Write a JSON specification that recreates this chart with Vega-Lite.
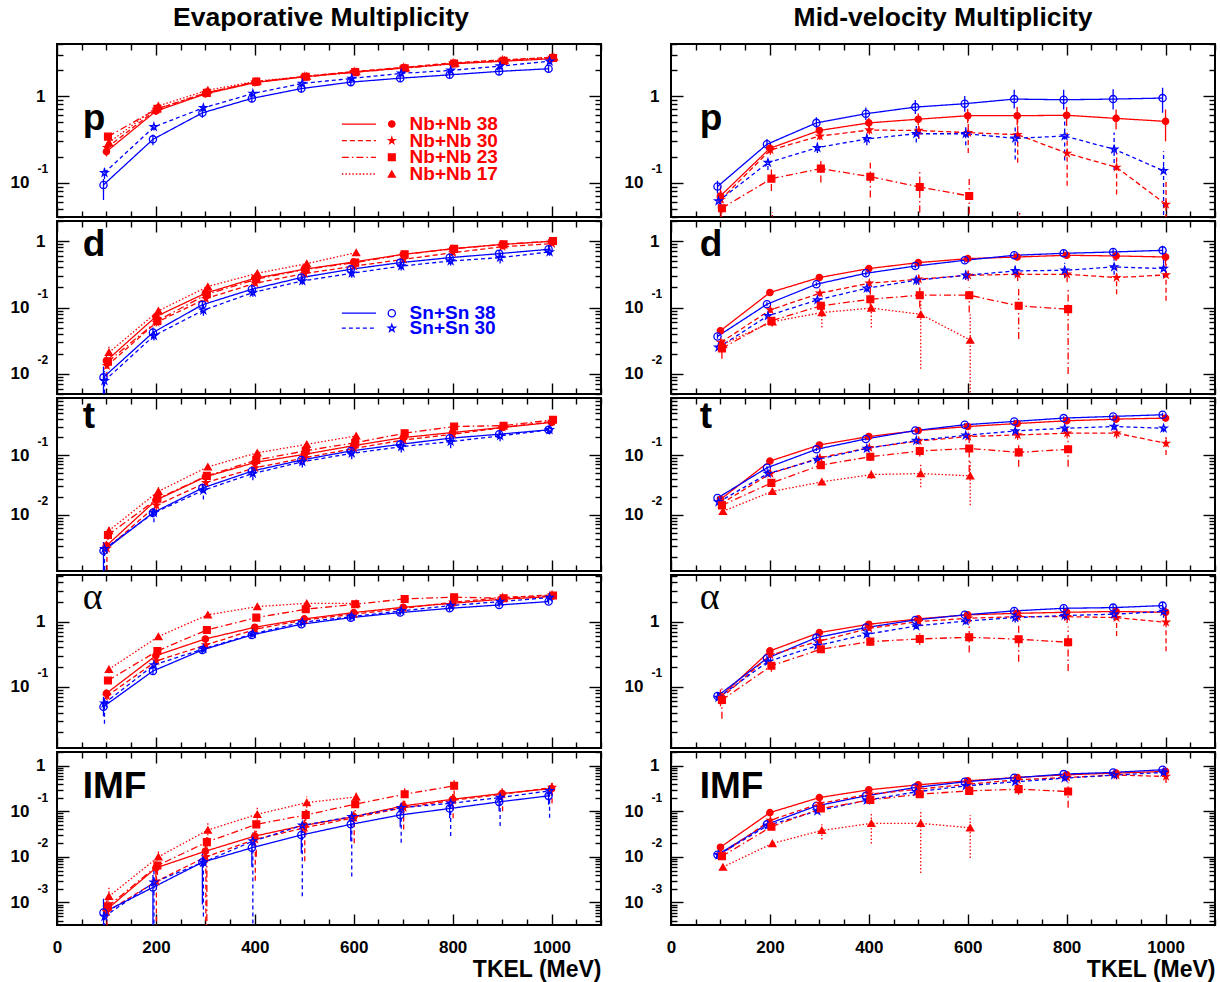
{
"$schema":"https://vega.github.io/schema/vega-lite/v6.json",
"background":"white",
"padding":{"left":9,"top":3,"right":4,"bottom":4},
"bounds":"flush",
"columns":2,
"spacing":{"row":4,"column":70},
"datasets":{
"leg":[{"s":"N38","lab":"Nb+Nb 38","g":"Nb"},{"s":"N30","lab":"Nb+Nb 30","g":"Nb"},{"s":"N23","lab":"Nb+Nb 23","g":"Nb"},{"s":"N17","lab":"Nb+Nb 17","g":"Nb"},{"s":"S38","lab":"Sn+Sn 38","g":"Sn"},{"s":"S30","lab":"Sn+Sn 30","g":"Sn"}],
"lab":[{"pn":"pL","t":"p"},{"pn":"pR","t":"p"},{"pn":"dL","t":"d"},{"pn":"dR","t":"d"},{"pn":"tL","t":"t"},{"pn":"tR","t":"t"},{"pn":"aL","t":"α"},{"pn":"aR","t":"α"},{"pn":"iL","t":"IMF"},{"pn":"iR","t":"IMF"}],
"pts":[
{"pn":"pL","s":"N38","x":100,"y":0.228,"lo":0.2,"hi":0.26},{"pn":"pL","s":"N38","x":200,"y":0.67,"lo":0.62,"hi":0.72},{"pn":"pL","s":"N38","x":300,"y":1.06,"lo":0.98,"hi":1.14},{"pn":"pL","s":"N38","x":400,"y":1.43,"lo":1.33,"hi":1.53},{"pn":"pL","s":"N38","x":500,"y":1.67,"lo":1.56,"hi":1.78},{"pn":"pL","s":"N38","x":600,"y":1.89,"lo":1.77,"hi":2.01},{"pn":"pL","s":"N38","x":700,"y":2.12,"lo":1.99,"hi":2.25},{"pn":"pL","s":"N38","x":800,"y":2.36,"lo":2.22,"hi":2.5},{"pn":"pL","s":"N38","x":900,"y":2.53,"lo":2.38,"hi":2.68},{"pn":"pL","s":"N38","x":1000,"y":2.7,"lo":2.54,"hi":2.86},
{"pn":"pL","s":"N30","x":101,"y":0.253,"lo":0.22,"hi":0.29},{"pn":"pL","s":"N30","x":201,"y":0.7,"lo":0.64,"hi":0.76},{"pn":"pL","s":"N30","x":301,"y":1.09,"lo":1.0,"hi":1.18},{"pn":"pL","s":"N30","x":401,"y":1.45,"lo":1.35,"hi":1.55},{"pn":"pL","s":"N30","x":501,"y":1.69,"lo":1.58,"hi":1.8},{"pn":"pL","s":"N30","x":601,"y":1.92,"lo":1.8,"hi":2.04},{"pn":"pL","s":"N30","x":701,"y":2.15,"lo":2.0,"hi":2.3},{"pn":"pL","s":"N30","x":801,"y":2.42,"lo":2.27,"hi":2.57},{"pn":"pL","s":"N30","x":901,"y":2.62,"lo":2.46,"hi":2.78},{"pn":"pL","s":"N30","x":1001,"y":2.8,"lo":2.63,"hi":2.97},
{"pn":"pL","s":"N23","x":103,"y":0.34,"lo":0.31,"hi":0.37},{"pn":"pL","s":"N23","x":203,"y":0.715,"lo":0.67,"hi":0.76},{"pn":"pL","s":"N23","x":303,"y":1.09,"lo":1.03,"hi":1.15},{"pn":"pL","s":"N23","x":403,"y":1.47,"lo":1.39,"hi":1.55},{"pn":"pL","s":"N23","x":503,"y":1.67,"lo":1.58,"hi":1.76},{"pn":"pL","s":"N23","x":603,"y":1.89,"lo":1.79,"hi":1.99},{"pn":"pL","s":"N23","x":703,"y":2.1,"lo":1.99,"hi":2.21},{"pn":"pL","s":"N23","x":803,"y":2.38,"lo":2.26,"hi":2.5},{"pn":"pL","s":"N23","x":903,"y":2.55,"lo":2.42,"hi":2.68},{"pn":"pL","s":"N23","x":1003,"y":2.75,"lo":2.6,"hi":2.9},
{"pn":"pL","s":"N17","x":105,"y":0.29,"lo":0.26,"hi":0.32},{"pn":"pL","s":"N17","x":205,"y":0.77,"lo":0.72,"hi":0.82},{"pn":"pL","s":"N17","x":305,"y":1.17,"lo":1.1,"hi":1.24},{"pn":"pL","s":"N17","x":405,"y":1.49,"lo":1.41,"hi":1.57},{"pn":"pL","s":"N17","x":505,"y":1.7,"lo":1.61,"hi":1.79},{"pn":"pL","s":"N17","x":605,"y":1.92,"lo":1.82,"hi":2.02},{"pn":"pL","s":"N17","x":705,"y":2.12,"lo":2.01,"hi":2.23},{"pn":"pL","s":"N17","x":805,"y":2.4,"lo":2.28,"hi":2.52},{"pn":"pL","s":"N17","x":905,"y":2.6,"lo":2.47,"hi":2.73},{"pn":"pL","s":"N17","x":1005,"y":2.82,"lo":2.68,"hi":2.96},
{"pn":"pL","s":"S38","x":94,"y":0.094,"lo":0.063,"hi":0.11},{"pn":"pL","s":"S38","x":194,"y":0.316,"lo":0.27,"hi":0.36},{"pn":"pL","s":"S38","x":294,"y":0.64,"lo":0.56,"hi":0.72},{"pn":"pL","s":"S38","x":394,"y":0.94,"lo":0.85,"hi":1.03},{"pn":"pL","s":"S38","x":494,"y":1.22,"lo":1.1,"hi":1.34},{"pn":"pL","s":"S38","x":594,"y":1.45,"lo":1.32,"hi":1.58},{"pn":"pL","s":"S38","x":694,"y":1.61,"lo":1.46,"hi":1.76},{"pn":"pL","s":"S38","x":794,"y":1.76,"lo":1.6,"hi":1.92},{"pn":"pL","s":"S38","x":894,"y":1.93,"lo":1.76,"hi":2.1},{"pn":"pL","s":"S38","x":994,"y":2.07,"lo":1.89,"hi":2.25},
{"pn":"pL","s":"S30","x":96,"y":0.13,"lo":0.11,"hi":0.15},{"pn":"pL","s":"S30","x":196,"y":0.44,"lo":0.4,"hi":0.48},{"pn":"pL","s":"S30","x":296,"y":0.73,"lo":0.67,"hi":0.8},{"pn":"pL","s":"S30","x":396,"y":1.07,"lo":0.98,"hi":1.16},{"pn":"pL","s":"S30","x":496,"y":1.4,"lo":1.29,"hi":1.51},{"pn":"pL","s":"S30","x":596,"y":1.6,"lo":1.47,"hi":1.73},{"pn":"pL","s":"S30","x":696,"y":1.83,"lo":1.68,"hi":1.98},{"pn":"pL","s":"S30","x":796,"y":1.98,"lo":1.82,"hi":2.14},{"pn":"pL","s":"S30","x":896,"y":2.22,"lo":2.04,"hi":2.4},{"pn":"pL","s":"S30","x":996,"y":2.53,"lo":2.33,"hi":2.73},

{"pn":"pR","s":"S38","x":94,"y":0.09,"lo":0.075,"hi":0.105},{"pn":"pR","s":"S38","x":194,"y":0.277,"lo":0.24,"hi":0.32},{"pn":"pR","s":"S38","x":294,"y":0.49,"lo":0.42,"hi":0.57},{"pn":"pR","s":"S38","x":394,"y":0.625,"lo":0.53,"hi":0.74},{"pn":"pR","s":"S38","x":494,"y":0.746,"lo":0.62,"hi":0.9},{"pn":"pR","s":"S38","x":594,"y":0.816,"lo":0.66,"hi":1.0},{"pn":"pR","s":"S38","x":694,"y":0.923,"lo":0.72,"hi":1.18},{"pn":"pR","s":"S38","x":794,"y":0.907,"lo":0.7,"hi":1.18},{"pn":"pR","s":"S38","x":894,"y":0.923,"lo":0.7,"hi":1.2},{"pn":"pR","s":"S38","x":994,"y":0.948,"lo":0.64,"hi":1.25},
{"pn":"pR","s":"N38","x":100,"y":0.07,"lo":0.045,"hi":0.09},{"pn":"pR","s":"N38","x":200,"y":0.249,"lo":0.22,"hi":0.28},{"pn":"pR","s":"N38","x":300,"y":0.4,"lo":0.36,"hi":0.44},{"pn":"pR","s":"N38","x":400,"y":0.49,"lo":0.43,"hi":0.56},{"pn":"pR","s":"N38","x":500,"y":0.54,"lo":0.46,"hi":0.63},{"pn":"pR","s":"N38","x":600,"y":0.593,"lo":0.49,"hi":0.71},{"pn":"pR","s":"N38","x":700,"y":0.593,"lo":0.46,"hi":0.75},{"pn":"pR","s":"N38","x":800,"y":0.6,"lo":0.45,"hi":0.75},{"pn":"pR","s":"N38","x":900,"y":0.552,"lo":0.41,"hi":0.7},{"pn":"pR","s":"N38","x":1000,"y":0.51,"lo":0.3,"hi":0.7},
{"pn":"pR","s":"N30","x":101,"y":0.064,"lo":0.04,"hi":0.08},{"pn":"pR","s":"N30","x":201,"y":0.238,"lo":0.21,"hi":0.27},{"pn":"pR","s":"N30","x":301,"y":0.345,"lo":0.31,"hi":0.38},{"pn":"pR","s":"N30","x":401,"y":0.405,"lo":0.36,"hi":0.45},{"pn":"pR","s":"N30","x":501,"y":0.4,"lo":0.32,"hi":0.48},{"pn":"pR","s":"N30","x":601,"y":0.378,"lo":0.22,"hi":0.54},{"pn":"pR","s":"N30","x":701,"y":0.358,"lo":0.17,"hi":0.64},{"pn":"pR","s":"N30","x":801,"y":0.218,"lo":0.092,"hi":0.41},{"pn":"pR","s":"N30","x":901,"y":0.15,"lo":0.073,"hi":0.22},{"pn":"pR","s":"N30","x":1001,"y":0.056,"lo":0.02,"hi":0.11},
{"pn":"pR","s":"S30","x":96,"y":0.061,"lo":0.05,"hi":0.075},{"pn":"pR","s":"S30","x":196,"y":0.17,"lo":0.14,"hi":0.2},{"pn":"pR","s":"S30","x":296,"y":0.253,"lo":0.22,"hi":0.29},{"pn":"pR","s":"S30","x":396,"y":0.32,"lo":0.27,"hi":0.37},{"pn":"pR","s":"S30","x":496,"y":0.367,"lo":0.29,"hi":0.45},{"pn":"pR","s":"S30","x":596,"y":0.367,"lo":0.27,"hi":0.47},{"pn":"pR","s":"S30","x":696,"y":0.325,"lo":0.185,"hi":0.46},{"pn":"pR","s":"S30","x":796,"y":0.345,"lo":0.18,"hi":0.64},{"pn":"pR","s":"S30","x":896,"y":0.243,"lo":0.14,"hi":0.38},{"pn":"pR","s":"S30","x":996,"y":0.137,"lo":0.02,"hi":0.23},
{"pn":"pR","s":"N23","x":103,"y":0.0506,"lo":0.03,"hi":0.065},{"pn":"pR","s":"N23","x":203,"y":0.111,"lo":0.08,"hi":0.15},{"pn":"pR","s":"N23","x":303,"y":0.145,"lo":0.1,"hi":0.19},{"pn":"pR","s":"N23","x":403,"y":0.117,"lo":0.067,"hi":0.17},{"pn":"pR","s":"N23","x":503,"y":0.089,"lo":0.045,"hi":0.135},{"pn":"pR","s":"N23","x":603,"y":0.07,"lo":0.02,"hi":0.11},
{"pn":"pR","s":"N17","x":205,"y":0.025,"lo":0.01,"hi":0.045},{"pn":"pR","s":"N17","x":705,"y":0.02,"lo":0.005,"hi":0.046},

{"pn":"dL","s":"N38","x":100,"y":0.0158,"lo":0.013,"hi":0.019},{"pn":"dL","s":"N38","x":200,"y":0.073,"lo":0.065,"hi":0.082},{"pn":"dL","s":"N38","x":300,"y":0.164,"lo":0.15,"hi":0.18},{"pn":"dL","s":"N38","x":400,"y":0.275,"lo":0.25,"hi":0.3},{"pn":"dL","s":"N38","x":500,"y":0.376,"lo":0.34,"hi":0.41},{"pn":"dL","s":"N38","x":600,"y":0.484,"lo":0.44,"hi":0.53},{"pn":"dL","s":"N38","x":700,"y":0.63,"lo":0.58,"hi":0.68},{"pn":"dL","s":"N38","x":800,"y":0.767,"lo":0.71,"hi":0.83},{"pn":"dL","s":"N38","x":900,"y":0.89,"lo":0.82,"hi":0.96},{"pn":"dL","s":"N38","x":1000,"y":0.99,"lo":0.92,"hi":1.07},
{"pn":"dL","s":"N30","x":101,"y":0.0133,"lo":0.009,"hi":0.016},{"pn":"dL","s":"N30","x":201,"y":0.0596,"lo":0.052,"hi":0.068},{"pn":"dL","s":"N30","x":301,"y":0.136,"lo":0.12,"hi":0.15},{"pn":"dL","s":"N30","x":401,"y":0.232,"lo":0.21,"hi":0.26},{"pn":"dL","s":"N30","x":501,"y":0.324,"lo":0.29,"hi":0.36},{"pn":"dL","s":"N30","x":601,"y":0.42,"lo":0.38,"hi":0.46},{"pn":"dL","s":"N30","x":701,"y":0.53,"lo":0.48,"hi":0.58},{"pn":"dL","s":"N30","x":801,"y":0.668,"lo":0.61,"hi":0.73},{"pn":"dL","s":"N30","x":901,"y":0.82,"lo":0.75,"hi":0.89},{"pn":"dL","s":"N30","x":1001,"y":0.91,"lo":0.84,"hi":0.98},
{"pn":"dL","s":"N23","x":103,"y":0.0153,"lo":0.013,"hi":0.018},{"pn":"dL","s":"N23","x":203,"y":0.063,"lo":0.056,"hi":0.071},{"pn":"dL","s":"N23","x":303,"y":0.158,"lo":0.14,"hi":0.18},{"pn":"dL","s":"N23","x":403,"y":0.266,"lo":0.24,"hi":0.29},{"pn":"dL","s":"N23","x":503,"y":0.376,"lo":0.34,"hi":0.41},{"pn":"dL","s":"N23","x":603,"y":0.473,"lo":0.44,"hi":0.51},{"pn":"dL","s":"N23","x":703,"y":0.63,"lo":0.58,"hi":0.68},{"pn":"dL","s":"N23","x":803,"y":0.767,"lo":0.71,"hi":0.83},{"pn":"dL","s":"N23","x":903,"y":0.89,"lo":0.82,"hi":0.96},{"pn":"dL","s":"N23","x":1003,"y":1.0,"lo":0.92,"hi":1.08},
{"pn":"dL","s":"N17","x":105,"y":0.0211,"lo":0.017,"hi":0.026},{"pn":"dL","s":"N17","x":205,"y":0.089,"lo":0.078,"hi":0.1},{"pn":"dL","s":"N17","x":305,"y":0.207,"lo":0.18,"hi":0.23},{"pn":"dL","s":"N17","x":405,"y":0.327,"lo":0.29,"hi":0.37},{"pn":"dL","s":"N17","x":505,"y":0.457,"lo":0.41,"hi":0.51},{"pn":"dL","s":"N17","x":605,"y":0.668,"lo":0.6,"hi":0.74},
{"pn":"dL","s":"S38","x":94,"y":0.0089,"lo":0.003,"hi":0.013},{"pn":"dL","s":"S38","x":194,"y":0.042,"lo":0.036,"hi":0.05},{"pn":"dL","s":"S38","x":294,"y":0.11,"lo":0.095,"hi":0.125},{"pn":"dL","s":"S38","x":394,"y":0.188,"lo":0.165,"hi":0.21},{"pn":"dL","s":"S38","x":494,"y":0.282,"lo":0.25,"hi":0.32},{"pn":"dL","s":"S38","x":594,"y":0.376,"lo":0.33,"hi":0.42},{"pn":"dL","s":"S38","x":694,"y":0.473,"lo":0.42,"hi":0.53},{"pn":"dL","s":"S38","x":794,"y":0.562,"lo":0.5,"hi":0.63},{"pn":"dL","s":"S38","x":894,"y":0.646,"lo":0.57,"hi":0.72},{"pn":"dL","s":"S38","x":994,"y":0.75,"lo":0.67,"hi":0.84},
{"pn":"dL","s":"S30","x":96,"y":0.0079,"lo":0.004,"hi":0.011},{"pn":"dL","s":"S30","x":196,"y":0.0376,"lo":0.032,"hi":0.044},{"pn":"dL","s":"S30","x":296,"y":0.091,"lo":0.075,"hi":0.11},{"pn":"dL","s":"S30","x":396,"y":0.168,"lo":0.145,"hi":0.19},{"pn":"dL","s":"S30","x":496,"y":0.251,"lo":0.22,"hi":0.285},{"pn":"dL","s":"S30","x":596,"y":0.327,"lo":0.28,"hi":0.37},{"pn":"dL","s":"S30","x":696,"y":0.42,"lo":0.36,"hi":0.48},{"pn":"dL","s":"S30","x":796,"y":0.5,"lo":0.43,"hi":0.57},{"pn":"dL","s":"S30","x":896,"y":0.562,"lo":0.46,"hi":0.66},{"pn":"dL","s":"S30","x":996,"y":0.684,"lo":0.6,"hi":0.77},

{"pn":"dR","s":"N38","x":100,"y":0.0447,"lo":0.041,"hi":0.049},{"pn":"dR","s":"N38","x":200,"y":0.168,"lo":0.155,"hi":0.18},{"pn":"dR","s":"N38","x":300,"y":0.282,"lo":0.26,"hi":0.3},{"pn":"dR","s":"N38","x":400,"y":0.385,"lo":0.36,"hi":0.41},{"pn":"dR","s":"N38","x":500,"y":0.473,"lo":0.44,"hi":0.51},{"pn":"dR","s":"N38","x":600,"y":0.543,"lo":0.5,"hi":0.59},{"pn":"dR","s":"N38","x":700,"y":0.575,"lo":0.52,"hi":0.63},{"pn":"dR","s":"N38","x":800,"y":0.61,"lo":0.54,"hi":0.68},{"pn":"dR","s":"N38","x":900,"y":0.596,"lo":0.5,"hi":0.7},{"pn":"dR","s":"N38","x":1000,"y":0.575,"lo":0.44,"hi":0.7},
{"pn":"dR","s":"S38","x":94,"y":0.0367,"lo":0.034,"hi":0.04},{"pn":"dR","s":"S38","x":194,"y":0.112,"lo":0.104,"hi":0.12},{"pn":"dR","s":"S38","x":294,"y":0.224,"lo":0.21,"hi":0.24},{"pn":"dR","s":"S38","x":394,"y":0.327,"lo":0.3,"hi":0.35},{"pn":"dR","s":"S38","x":494,"y":0.42,"lo":0.39,"hi":0.45},{"pn":"dR","s":"S38","x":594,"y":0.513,"lo":0.47,"hi":0.56},{"pn":"dR","s":"S38","x":694,"y":0.61,"lo":0.55,"hi":0.67},{"pn":"dR","s":"S38","x":794,"y":0.653,"lo":0.58,"hi":0.73},{"pn":"dR","s":"S38","x":894,"y":0.684,"lo":0.6,"hi":0.78},{"pn":"dR","s":"S38","x":994,"y":0.724,"lo":0.62,"hi":0.85},
{"pn":"dR","s":"N30","x":101,"y":0.0299,"lo":0.027,"hi":0.033},{"pn":"dR","s":"N30","x":201,"y":0.092,"lo":0.083,"hi":0.1},{"pn":"dR","s":"N30","x":301,"y":0.164,"lo":0.145,"hi":0.185},{"pn":"dR","s":"N30","x":401,"y":0.232,"lo":0.2,"hi":0.26},{"pn":"dR","s":"N30","x":501,"y":0.266,"lo":0.22,"hi":0.31},{"pn":"dR","s":"N30","x":601,"y":0.305,"lo":0.25,"hi":0.36},{"pn":"dR","s":"N30","x":701,"y":0.316,"lo":0.25,"hi":0.38},{"pn":"dR","s":"N30","x":801,"y":0.316,"lo":0.24,"hi":0.4},{"pn":"dR","s":"N30","x":901,"y":0.282,"lo":0.158,"hi":0.4},{"pn":"dR","s":"N30","x":1001,"y":0.309,"lo":0.126,"hi":0.6},
{"pn":"dR","s":"S30","x":96,"y":0.0251,"lo":0.023,"hi":0.028},{"pn":"dR","s":"S30","x":196,"y":0.075,"lo":0.068,"hi":0.083},{"pn":"dR","s":"S30","x":296,"y":0.13,"lo":0.115,"hi":0.145},{"pn":"dR","s":"S30","x":396,"y":0.195,"lo":0.17,"hi":0.22},{"pn":"dR","s":"S30","x":496,"y":0.257,"lo":0.22,"hi":0.3},{"pn":"dR","s":"S30","x":596,"y":0.305,"lo":0.26,"hi":0.36},{"pn":"dR","s":"S30","x":696,"y":0.355,"lo":0.29,"hi":0.43},{"pn":"dR","s":"S30","x":796,"y":0.363,"lo":0.28,"hi":0.47},{"pn":"dR","s":"S30","x":896,"y":0.407,"lo":0.31,"hi":0.53},{"pn":"dR","s":"S30","x":996,"y":0.385,"lo":0.28,"hi":0.52},
{"pn":"dR","s":"N23","x":103,"y":0.0243,"lo":0.017,"hi":0.03},{"pn":"dR","s":"N23","x":203,"y":0.063,"lo":0.053,"hi":0.073},{"pn":"dR","s":"N23","x":303,"y":0.106,"lo":0.088,"hi":0.125},{"pn":"dR","s":"N23","x":403,"y":0.133,"lo":0.094,"hi":0.2},{"pn":"dR","s":"N23","x":503,"y":0.153,"lo":0.1,"hi":0.2},{"pn":"dR","s":"N23","x":603,"y":0.153,"lo":0.084,"hi":0.2},{"pn":"dR","s":"N23","x":703,"y":0.106,"lo":0.0335,"hi":0.19},{"pn":"dR","s":"N23","x":803,"y":0.0944,"lo":0.01,"hi":0.2},
{"pn":"dR","s":"N17","x":105,"y":0.028,"lo":0.022,"hi":0.034},{"pn":"dR","s":"N17","x":205,"y":0.061,"lo":0.052,"hi":0.07},{"pn":"dR","s":"N17","x":305,"y":0.084,"lo":0.05,"hi":0.1},{"pn":"dR","s":"N17","x":405,"y":0.098,"lo":0.05,"hi":0.106},{"pn":"dR","s":"N17","x":505,"y":0.079,"lo":0.012,"hi":0.158},{"pn":"dR","s":"N17","x":605,"y":0.0324,"lo":0.002,"hi":0.079},

{"pn":"tL","s":"N38","x":100,"y":0.00304,"lo":0.0025,"hi":0.0037},{"pn":"tL","s":"N38","x":200,"y":0.0175,"lo":0.015,"hi":0.02},{"pn":"tL","s":"N38","x":300,"y":0.0432,"lo":0.039,"hi":0.048},{"pn":"tL","s":"N38","x":400,"y":0.0751,"lo":0.068,"hi":0.083},{"pn":"tL","s":"N38","x":500,"y":0.1026,"lo":0.093,"hi":0.113},{"pn":"tL","s":"N38","x":600,"y":0.1436,"lo":0.13,"hi":0.158},{"pn":"tL","s":"N38","x":700,"y":0.196,"lo":0.178,"hi":0.215},{"pn":"tL","s":"N38","x":800,"y":0.238,"lo":0.216,"hi":0.26},{"pn":"tL","s":"N38","x":900,"y":0.289,"lo":0.265,"hi":0.315},{"pn":"tL","s":"N38","x":1000,"y":0.351,"lo":0.32,"hi":0.385},
{"pn":"tL","s":"N30","x":101,"y":0.00274,"lo":0.0012,"hi":0.0035},{"pn":"tL","s":"N30","x":201,"y":0.0144,"lo":0.011,"hi":0.018},{"pn":"tL","s":"N30","x":301,"y":0.0346,"lo":0.03,"hi":0.04},{"pn":"tL","s":"N30","x":401,"y":0.0612,"lo":0.053,"hi":0.07},{"pn":"tL","s":"N30","x":501,"y":0.09,"lo":0.08,"hi":0.1},{"pn":"tL","s":"N30","x":601,"y":0.129,"lo":0.115,"hi":0.145},{"pn":"tL","s":"N30","x":701,"y":0.179,"lo":0.16,"hi":0.2},{"pn":"tL","s":"N30","x":801,"y":0.223,"lo":0.2,"hi":0.25},{"pn":"tL","s":"N30","x":901,"y":0.289,"lo":0.26,"hi":0.32},{"pn":"tL","s":"N30","x":1001,"y":0.365,"lo":0.33,"hi":0.4},
{"pn":"tL","s":"N23","x":103,"y":0.0046,"lo":0.0038,"hi":0.0055},{"pn":"tL","s":"N23","x":203,"y":0.0186,"lo":0.016,"hi":0.021},{"pn":"tL","s":"N23","x":303,"y":0.0449,"lo":0.04,"hi":0.05},{"pn":"tL","s":"N23","x":403,"y":0.0824,"lo":0.074,"hi":0.091},{"pn":"tL","s":"N23","x":503,"y":0.118,"lo":0.106,"hi":0.13},{"pn":"tL","s":"N23","x":603,"y":0.161,"lo":0.145,"hi":0.178},{"pn":"tL","s":"N23","x":703,"y":0.232,"lo":0.21,"hi":0.255},{"pn":"tL","s":"N23","x":803,"y":0.3,"lo":0.27,"hi":0.33},{"pn":"tL","s":"N23","x":903,"y":0.31,"lo":0.28,"hi":0.34},{"pn":"tL","s":"N23","x":1003,"y":0.389,"lo":0.35,"hi":0.43},
{"pn":"tL","s":"N17","x":105,"y":0.00545,"lo":0.0045,"hi":0.0066},{"pn":"tL","s":"N17","x":205,"y":0.0247,"lo":0.021,"hi":0.029},{"pn":"tL","s":"N17","x":305,"y":0.0635,"lo":0.056,"hi":0.072},{"pn":"tL","s":"N17","x":405,"y":0.109,"lo":0.097,"hi":0.122},{"pn":"tL","s":"N17","x":505,"y":0.151,"lo":0.135,"hi":0.168},{"pn":"tL","s":"N17","x":605,"y":0.209,"lo":0.185,"hi":0.235},
{"pn":"tL","s":"S38","x":94,"y":0.0025,"lo":0.0008,"hi":0.0035},{"pn":"tL","s":"S38","x":194,"y":0.0108,"lo":0.009,"hi":0.013},{"pn":"tL","s":"S38","x":294,"y":0.0281,"lo":0.024,"hi":0.033},{"pn":"tL","s":"S38","x":394,"y":0.0537,"lo":0.046,"hi":0.062},{"pn":"tL","s":"S38","x":494,"y":0.0824,"lo":0.072,"hi":0.094},{"pn":"tL","s":"S38","x":594,"y":0.117,"lo":0.102,"hi":0.133},{"pn":"tL","s":"S38","x":694,"y":0.151,"lo":0.132,"hi":0.172},{"pn":"tL","s":"S38","x":794,"y":0.191,"lo":0.165,"hi":0.22},{"pn":"tL","s":"S38","x":894,"y":0.223,"lo":0.195,"hi":0.255},{"pn":"tL","s":"S38","x":994,"y":0.264,"lo":0.235,"hi":0.295},
{"pn":"tL","s":"S30","x":96,"y":0.0027,"lo":0.0012,"hi":0.0033},{"pn":"tL","s":"S30","x":196,"y":0.0108,"lo":0.0075,"hi":0.013},{"pn":"tL","s":"S30","x":296,"y":0.0257,"lo":0.018,"hi":0.03},{"pn":"tL","s":"S30","x":396,"y":0.049,"lo":0.038,"hi":0.055},{"pn":"tL","s":"S30","x":496,"y":0.0772,"lo":0.062,"hi":0.087},{"pn":"tL","s":"S30","x":596,"y":0.1067,"lo":0.085,"hi":0.12},{"pn":"tL","s":"S30","x":696,"y":0.138,"lo":0.11,"hi":0.155},{"pn":"tL","s":"S30","x":796,"y":0.168,"lo":0.13,"hi":0.19},{"pn":"tL","s":"S30","x":896,"y":0.209,"lo":0.17,"hi":0.235},{"pn":"tL","s":"S30","x":996,"y":0.264,"lo":0.22,"hi":0.295},

{"pn":"tR","s":"N38","x":100,"y":0.0181,"lo":0.017,"hi":0.0195},{"pn":"tR","s":"N38","x":200,"y":0.0792,"lo":0.075,"hi":0.084},{"pn":"tR","s":"N38","x":300,"y":0.1475,"lo":0.14,"hi":0.155},{"pn":"tR","s":"N38","x":400,"y":0.204,"lo":0.193,"hi":0.215},{"pn":"tR","s":"N38","x":500,"y":0.257,"lo":0.243,"hi":0.272},{"pn":"tR","s":"N38","x":600,"y":0.3,"lo":0.283,"hi":0.318},{"pn":"tR","s":"N38","x":700,"y":0.337,"lo":0.315,"hi":0.36},{"pn":"tR","s":"N38","x":800,"y":0.374,"lo":0.35,"hi":0.4},{"pn":"tR","s":"N38","x":900,"y":0.399,"lo":0.37,"hi":0.43},{"pn":"tR","s":"N38","x":1000,"y":0.415,"lo":0.385,"hi":0.45},
{"pn":"tR","s":"S38","x":94,"y":0.0191,"lo":0.018,"hi":0.0203},{"pn":"tR","s":"S38","x":194,"y":0.0612,"lo":0.0575,"hi":0.065},{"pn":"tR","s":"S38","x":294,"y":0.1247,"lo":0.117,"hi":0.132},{"pn":"tR","s":"S38","x":394,"y":0.186,"lo":0.175,"hi":0.197},{"pn":"tR","s":"S38","x":494,"y":0.257,"lo":0.24,"hi":0.274},{"pn":"tR","s":"S38","x":594,"y":0.321,"lo":0.3,"hi":0.342},{"pn":"tR","s":"S38","x":694,"y":0.365,"lo":0.34,"hi":0.39},{"pn":"tR","s":"S38","x":794,"y":0.415,"lo":0.385,"hi":0.445},{"pn":"tR","s":"S38","x":894,"y":0.443,"lo":0.41,"hi":0.476},{"pn":"tR","s":"S38","x":994,"y":0.472,"lo":0.435,"hi":0.51},
{"pn":"tR","s":"N30","x":101,"y":0.0153,"lo":0.014,"hi":0.0166},{"pn":"tR","s":"N30","x":201,"y":0.049,"lo":0.046,"hi":0.052},{"pn":"tR","s":"N30","x":301,"y":0.09,"lo":0.085,"hi":0.096},{"pn":"tR","s":"N30","x":401,"y":0.133,"lo":0.125,"hi":0.142},{"pn":"tR","s":"N30","x":501,"y":0.172,"lo":0.16,"hi":0.185},{"pn":"tR","s":"N30","x":601,"y":0.204,"lo":0.18,"hi":0.23},{"pn":"tR","s":"N30","x":701,"y":0.217,"lo":0.18,"hi":0.26},{"pn":"tR","s":"N30","x":801,"y":0.232,"lo":0.19,"hi":0.28},{"pn":"tR","s":"N30","x":901,"y":0.232,"lo":0.19,"hi":0.28},{"pn":"tR","s":"N30","x":1001,"y":0.157,"lo":0.1,"hi":0.2},
{"pn":"tR","s":"S30","x":96,"y":0.0163,"lo":0.0153,"hi":0.0173},{"pn":"tR","s":"S30","x":196,"y":0.049,"lo":0.046,"hi":0.052},{"pn":"tR","s":"S30","x":296,"y":0.0845,"lo":0.079,"hi":0.09},{"pn":"tR","s":"S30","x":396,"y":0.129,"lo":0.12,"hi":0.138},{"pn":"tR","s":"S30","x":496,"y":0.175,"lo":0.163,"hi":0.187},{"pn":"tR","s":"S30","x":596,"y":0.214,"lo":0.198,"hi":0.23},{"pn":"tR","s":"S30","x":696,"y":0.253,"lo":0.233,"hi":0.273},{"pn":"tR","s":"S30","x":796,"y":0.281,"lo":0.24,"hi":0.32},{"pn":"tR","s":"S30","x":896,"y":0.3,"lo":0.26,"hi":0.34},{"pn":"tR","s":"S30","x":996,"y":0.281,"lo":0.24,"hi":0.32},
{"pn":"tR","s":"N23","x":103,"y":0.0144,"lo":0.013,"hi":0.016},{"pn":"tR","s":"N23","x":203,"y":0.0342,"lo":0.031,"hi":0.038},{"pn":"tR","s":"N23","x":303,"y":0.0678,"lo":0.061,"hi":0.075},{"pn":"tR","s":"N23","x":403,"y":0.0937,"lo":0.08,"hi":0.11},{"pn":"tR","s":"N23","x":503,"y":0.117,"lo":0.095,"hi":0.14},{"pn":"tR","s":"N23","x":603,"y":0.129,"lo":0.052,"hi":0.19},{"pn":"tR","s":"N23","x":703,"y":0.111,"lo":0.0636,"hi":0.157},{"pn":"tR","s":"N23","x":803,"y":0.1247,"lo":0.064,"hi":0.19},
{"pn":"tR","s":"N17","x":105,"y":0.0115,"lo":0.0105,"hi":0.0125},{"pn":"tR","s":"N17","x":205,"y":0.0247,"lo":0.022,"hi":0.027},{"pn":"tR","s":"N17","x":305,"y":0.0356,"lo":0.032,"hi":0.039},{"pn":"tR","s":"N17","x":405,"y":0.0472,"lo":0.04,"hi":0.055},{"pn":"tR","s":"N17","x":505,"y":0.049,"lo":0.029,"hi":0.07},{"pn":"tR","s":"N17","x":605,"y":0.0449,"lo":0.0144,"hi":0.082},

{"pn":"aL","s":"N38","x":100,"y":0.0789,"lo":0.068,"hi":0.09},{"pn":"aL","s":"N38","x":200,"y":0.3,"lo":0.27,"hi":0.33},{"pn":"aL","s":"N38","x":300,"y":0.541,"lo":0.5,"hi":0.58},{"pn":"aL","s":"N38","x":400,"y":0.818,"lo":0.76,"hi":0.88},{"pn":"aL","s":"N38","x":500,"y":1.099,"lo":1.02,"hi":1.18},{"pn":"aL","s":"N38","x":600,"y":1.375,"lo":1.28,"hi":1.47},{"pn":"aL","s":"N38","x":700,"y":1.66,"lo":1.55,"hi":1.77},{"pn":"aL","s":"N38","x":800,"y":1.91,"lo":1.78,"hi":2.04},{"pn":"aL","s":"N38","x":900,"y":2.21,"lo":2.06,"hi":2.36},{"pn":"aL","s":"N38","x":1000,"y":2.42,"lo":2.26,"hi":2.58},
{"pn":"aL","s":"N30","x":101,"y":0.0718,"lo":0.062,"hi":0.082},{"pn":"aL","s":"N30","x":201,"y":0.248,"lo":0.22,"hi":0.28},{"pn":"aL","s":"N30","x":301,"y":0.437,"lo":0.39,"hi":0.48},{"pn":"aL","s":"N30","x":401,"y":0.762,"lo":0.69,"hi":0.84},{"pn":"aL","s":"N30","x":501,"y":1.06,"lo":0.96,"hi":1.16},{"pn":"aL","s":"N30","x":601,"y":1.3,"lo":1.18,"hi":1.42},{"pn":"aL","s":"N30","x":701,"y":1.6,"lo":1.45,"hi":1.75},{"pn":"aL","s":"N30","x":801,"y":1.98,"lo":1.8,"hi":2.16},{"pn":"aL","s":"N30","x":901,"y":2.34,"lo":2.13,"hi":2.55},{"pn":"aL","s":"N30","x":1001,"y":2.57,"lo":2.34,"hi":2.8},
{"pn":"aL","s":"N23","x":103,"y":0.124,"lo":0.115,"hi":0.133},{"pn":"aL","s":"N23","x":203,"y":0.354,"lo":0.33,"hi":0.38},{"pn":"aL","s":"N23","x":303,"y":0.744,"lo":0.7,"hi":0.79},{"pn":"aL","s":"N23","x":403,"y":1.15,"lo":1.08,"hi":1.22},{"pn":"aL","s":"N23","x":503,"y":1.55,"lo":1.46,"hi":1.64},{"pn":"aL","s":"N23","x":603,"y":1.85,"lo":1.74,"hi":1.96},{"pn":"aL","s":"N23","x":703,"y":2.23,"lo":2.1,"hi":2.36},{"pn":"aL","s":"N23","x":803,"y":2.37,"lo":2.23,"hi":2.51},{"pn":"aL","s":"N23","x":903,"y":2.29,"lo":2.15,"hi":2.43},{"pn":"aL","s":"N23","x":1003,"y":2.51,"lo":2.36,"hi":2.66},
{"pn":"aL","s":"N17","x":105,"y":0.185,"lo":0.16,"hi":0.21},{"pn":"aL","s":"N17","x":205,"y":0.588,"lo":0.55,"hi":0.63},{"pn":"aL","s":"N17","x":305,"y":1.27,"lo":1.2,"hi":1.35},{"pn":"aL","s":"N17","x":405,"y":1.7,"lo":1.6,"hi":1.8},{"pn":"aL","s":"N17","x":505,"y":1.91,"lo":1.8,"hi":2.02},{"pn":"aL","s":"N17","x":605,"y":1.9,"lo":1.79,"hi":2.01},
{"pn":"aL","s":"S38","x":94,"y":0.0492,"lo":0.035,"hi":0.07},{"pn":"aL","s":"S38","x":194,"y":0.174,"lo":0.155,"hi":0.195},{"pn":"aL","s":"S38","x":294,"y":0.366,"lo":0.33,"hi":0.4},{"pn":"aL","s":"S38","x":394,"y":0.623,"lo":0.57,"hi":0.68},{"pn":"aL","s":"S38","x":494,"y":0.91,"lo":0.83,"hi":0.99},{"pn":"aL","s":"S38","x":594,"y":1.15,"lo":1.05,"hi":1.25},{"pn":"aL","s":"S38","x":694,"y":1.375,"lo":1.26,"hi":1.49},{"pn":"aL","s":"S38","x":794,"y":1.6,"lo":1.46,"hi":1.74},{"pn":"aL","s":"S38","x":894,"y":1.8,"lo":1.65,"hi":1.95},{"pn":"aL","s":"S38","x":994,"y":2.03,"lo":1.86,"hi":2.2},
{"pn":"aL","s":"S30","x":96,"y":0.0554,"lo":0.027,"hi":0.07},{"pn":"aL","s":"S30","x":196,"y":0.215,"lo":0.19,"hi":0.24},{"pn":"aL","s":"S30","x":296,"y":0.38,"lo":0.34,"hi":0.42},{"pn":"aL","s":"S30","x":396,"y":0.646,"lo":0.59,"hi":0.7},{"pn":"aL","s":"S30","x":496,"y":0.977,"lo":0.9,"hi":1.05},{"pn":"aL","s":"S30","x":596,"y":1.19,"lo":1.1,"hi":1.28},{"pn":"aL","s":"S30","x":696,"y":1.46,"lo":1.35,"hi":1.57},{"pn":"aL","s":"S30","x":796,"y":1.76,"lo":1.63,"hi":1.89},{"pn":"aL","s":"S30","x":896,"y":2.03,"lo":1.88,"hi":2.18},{"pn":"aL","s":"S30","x":996,"y":2.34,"lo":2.17,"hi":2.51},

{"pn":"aR","s":"N38","x":100,"y":0.07,"lo":0.05,"hi":0.09},{"pn":"aR","s":"N38","x":200,"y":0.354,"lo":0.32,"hi":0.39},{"pn":"aR","s":"N38","x":300,"y":0.677,"lo":0.62,"hi":0.74},{"pn":"aR","s":"N38","x":400,"y":0.91,"lo":0.83,"hi":1.0},{"pn":"aR","s":"N38","x":500,"y":1.099,"lo":1.0,"hi":1.2},{"pn":"aR","s":"N38","x":600,"y":1.27,"lo":1.14,"hi":1.4},{"pn":"aR","s":"N38","x":700,"y":1.34,"lo":1.2,"hi":1.5},{"pn":"aR","s":"N38","x":800,"y":1.39,"lo":1.1,"hi":1.6},{"pn":"aR","s":"N38","x":900,"y":1.43,"lo":1.2,"hi":1.65},{"pn":"aR","s":"N38","x":1000,"y":1.39,"lo":1.0,"hi":1.7},
{"pn":"aR","s":"S38","x":94,"y":0.0718,"lo":0.064,"hi":0.08},{"pn":"aR","s":"S38","x":194,"y":0.273,"lo":0.25,"hi":0.3},{"pn":"aR","s":"S38","x":294,"y":0.567,"lo":0.52,"hi":0.62},{"pn":"aR","s":"S38","x":394,"y":0.809,"lo":0.74,"hi":0.88},{"pn":"aR","s":"S38","x":494,"y":1.06,"lo":0.97,"hi":1.15},{"pn":"aR","s":"S38","x":594,"y":1.27,"lo":1.16,"hi":1.38},{"pn":"aR","s":"S38","x":694,"y":1.46,"lo":1.33,"hi":1.6},{"pn":"aR","s":"S38","x":794,"y":1.6,"lo":1.44,"hi":1.77},{"pn":"aR","s":"S38","x":894,"y":1.64,"lo":1.46,"hi":1.83},{"pn":"aR","s":"S38","x":994,"y":1.76,"lo":1.55,"hi":2.0},
{"pn":"aR","s":"N30","x":101,"y":0.066,"lo":0.058,"hi":0.075},{"pn":"aR","s":"N30","x":201,"y":0.307,"lo":0.28,"hi":0.34},{"pn":"aR","s":"N30","x":301,"y":0.504,"lo":0.46,"hi":0.55},{"pn":"aR","s":"N30","x":401,"y":0.789,"lo":0.72,"hi":0.86},{"pn":"aR","s":"N30","x":501,"y":1.0,"lo":0.9,"hi":1.1},{"pn":"aR","s":"N30","x":601,"y":1.125,"lo":1.0,"hi":1.25},{"pn":"aR","s":"N30","x":701,"y":1.19,"lo":1.0,"hi":1.35},{"pn":"aR","s":"N30","x":801,"y":1.19,"lo":0.95,"hi":1.4},{"pn":"aR","s":"N30","x":901,"y":1.15,"lo":0.6,"hi":1.35},{"pn":"aR","s":"N30","x":1001,"y":0.977,"lo":0.35,"hi":1.6},
{"pn":"aR","s":"S30","x":96,"y":0.068,"lo":0.06,"hi":0.077},{"pn":"aR","s":"S30","x":196,"y":0.243,"lo":0.22,"hi":0.27},{"pn":"aR","s":"S30","x":296,"y":0.427,"lo":0.39,"hi":0.47},{"pn":"aR","s":"S30","x":396,"y":0.638,"lo":0.58,"hi":0.7},{"pn":"aR","s":"S30","x":496,"y":0.857,"lo":0.77,"hi":0.95},{"pn":"aR","s":"S30","x":596,"y":1.02,"lo":0.9,"hi":1.15},{"pn":"aR","s":"S30","x":696,"y":1.15,"lo":0.97,"hi":1.3},{"pn":"aR","s":"S30","x":796,"y":1.24,"lo":1.04,"hi":1.45},{"pn":"aR","s":"S30","x":896,"y":1.3,"lo":1.05,"hi":1.55},{"pn":"aR","s":"S30","x":996,"y":1.43,"lo":1.15,"hi":1.75},
{"pn":"aR","s":"N23","x":103,"y":0.0624,"lo":0.032,"hi":0.094},{"pn":"aR","s":"N23","x":203,"y":0.21,"lo":0.17,"hi":0.25},{"pn":"aR","s":"N23","x":303,"y":0.375,"lo":0.33,"hi":0.42},{"pn":"aR","s":"N23","x":403,"y":0.492,"lo":0.42,"hi":0.58},{"pn":"aR","s":"N23","x":503,"y":0.541,"lo":0.44,"hi":0.67},{"pn":"aR","s":"N23","x":603,"y":0.574,"lo":0.334,"hi":1.0},{"pn":"aR","s":"N23","x":703,"y":0.535,"lo":0.242,"hi":0.89},{"pn":"aR","s":"N23","x":803,"y":0.481,"lo":0.174,"hi":0.84},

{"pn":"iL","s":"N38","x":100,"y":0.00069,"lo":0.0004,"hi":0.0011},{"pn":"iL","s":"N38","x":200,"y":0.00572,"lo":0.0035,"hi":0.008},{"pn":"iL","s":"N38","x":300,"y":0.0133,"lo":0.008,"hi":0.018},{"pn":"iL","s":"N38","x":400,"y":0.0286,"lo":0.018,"hi":0.038},{"pn":"iL","s":"N38","x":500,"y":0.0491,"lo":0.033,"hi":0.065},{"pn":"iL","s":"N38","x":600,"y":0.0762,"lo":0.052,"hi":0.1},{"pn":"iL","s":"N38","x":700,"y":0.131,"lo":0.09,"hi":0.17},{"pn":"iL","s":"N38","x":800,"y":0.184,"lo":0.13,"hi":0.24},{"pn":"iL","s":"N38","x":900,"y":0.245,"lo":0.17,"hi":0.32},{"pn":"iL","s":"N38","x":1000,"y":0.316,"lo":0.22,"hi":0.41},
{"pn":"iL","s":"N30","x":101,"y":0.00063,"lo":0.0002,"hi":0.001},{"pn":"iL","s":"N30","x":201,"y":0.0029,"lo":0.00001,"hi":0.006},{"pn":"iL","s":"N30","x":301,"y":0.01,"lo":0.00001,"hi":0.016},{"pn":"iL","s":"N30","x":401,"y":0.0241,"lo":0.003,"hi":0.036},{"pn":"iL","s":"N30","x":501,"y":0.0436,"lo":0.008,"hi":0.065},{"pn":"iL","s":"N30","x":601,"y":0.0725,"lo":0.02,"hi":0.1},{"pn":"iL","s":"N30","x":701,"y":0.12,"lo":0.04,"hi":0.17},{"pn":"iL","s":"N30","x":801,"y":0.175,"lo":0.07,"hi":0.24},{"pn":"iL","s":"N30","x":901,"y":0.237,"lo":0.1,"hi":0.32},{"pn":"iL","s":"N30","x":1001,"y":0.333,"lo":0.15,"hi":0.42},
{"pn":"iL","s":"N23","x":103,"y":0.00082,"lo":0.0005,"hi":0.0012},{"pn":"iL","s":"N23","x":203,"y":0.00644,"lo":0.004,"hi":0.009},{"pn":"iL","s":"N23","x":303,"y":0.0211,"lo":0.00001,"hi":0.03},{"pn":"iL","s":"N23","x":403,"y":0.0517,"lo":0.01,"hi":0.07},{"pn":"iL","s":"N23","x":503,"y":0.083,"lo":0.03,"hi":0.11},{"pn":"iL","s":"N23","x":603,"y":0.143,"lo":0.06,"hi":0.19},{"pn":"iL","s":"N23","x":703,"y":0.237,"lo":0.12,"hi":0.32},{"pn":"iL","s":"N23","x":803,"y":0.362,"lo":0.2,"hi":0.48},
{"pn":"iL","s":"N17","x":105,"y":0.00136,"lo":0.0008,"hi":0.0022},{"pn":"iL","s":"N17","x":205,"y":0.01,"lo":0.006,"hi":0.014},{"pn":"iL","s":"N17","x":305,"y":0.0387,"lo":0.025,"hi":0.055},{"pn":"iL","s":"N17","x":405,"y":0.0859,"lo":0.055,"hi":0.12},{"pn":"iL","s":"N17","x":505,"y":0.155,"lo":0.1,"hi":0.21},{"pn":"iL","s":"N17","x":605,"y":0.207,"lo":0.14,"hi":0.28},
{"pn":"iL","s":"S38","x":94,"y":0.0006,"lo":0.0002,"hi":0.0012},{"pn":"iL","s":"S38","x":194,"y":0.00214,"lo":0.00001,"hi":0.004},{"pn":"iL","s":"S38","x":294,"y":0.00762,"lo":0.0009,"hi":0.012},{"pn":"iL","s":"S38","x":394,"y":0.0158,"lo":0.006,"hi":0.024},{"pn":"iL","s":"S38","x":494,"y":0.0301,"lo":0.012,"hi":0.045},{"pn":"iL","s":"S38","x":594,"y":0.0517,"lo":0.022,"hi":0.075},{"pn":"iL","s":"S38","x":694,"y":0.083,"lo":0.045,"hi":0.12},{"pn":"iL","s":"S38","x":794,"y":0.115,"lo":0.07,"hi":0.16},{"pn":"iL","s":"S38","x":894,"y":0.161,"lo":0.1,"hi":0.22},{"pn":"iL","s":"S38","x":994,"y":0.218,"lo":0.14,"hi":0.3},
{"pn":"iL","s":"S30","x":96,"y":0.00049,"lo":0.0002,"hi":0.0009},{"pn":"iL","s":"S30","x":196,"y":0.00276,"lo":0.00001,"hi":0.005},{"pn":"iL","s":"S30","x":296,"y":0.00762,"lo":0.00049,"hi":0.013},{"pn":"iL","s":"S30","x":396,"y":0.0222,"lo":0.00001,"hi":0.035},{"pn":"iL","s":"S30","x":496,"y":0.0491,"lo":0.00136,"hi":0.07},{"pn":"iL","s":"S30","x":596,"y":0.0762,"lo":0.0037,"hi":0.1},{"pn":"iL","s":"S30","x":696,"y":0.12,"lo":0.0205,"hi":0.16},{"pn":"iL","s":"S30","x":796,"y":0.15,"lo":0.0286,"hi":0.22},{"pn":"iL","s":"S30","x":896,"y":0.2,"lo":0.0475,"hi":0.28},{"pn":"iL","s":"S30","x":996,"y":0.281,"lo":0.0726,"hi":0.36},

{"pn":"iR","s":"N38","x":100,"y":0.0163,"lo":0.015,"hi":0.0178},{"pn":"iR","s":"N38","x":200,"y":0.0935,"lo":0.088,"hi":0.1},{"pn":"iR","s":"N38","x":300,"y":0.2,"lo":0.19,"hi":0.21},{"pn":"iR","s":"N38","x":400,"y":0.296,"lo":0.28,"hi":0.31},{"pn":"iR","s":"N38","x":500,"y":0.381,"lo":0.36,"hi":0.4},{"pn":"iR","s":"N38","x":600,"y":0.467,"lo":0.44,"hi":0.49},{"pn":"iR","s":"N38","x":700,"y":0.553,"lo":0.52,"hi":0.59},{"pn":"iR","s":"N38","x":800,"y":0.633,"lo":0.59,"hi":0.68},{"pn":"iR","s":"N38","x":900,"y":0.689,"lo":0.64,"hi":0.74},{"pn":"iR","s":"N38","x":1000,"y":0.75,"lo":0.69,"hi":0.81},
{"pn":"iR","s":"S38","x":94,"y":0.0111,"lo":0.0104,"hi":0.0118},{"pn":"iR","s":"S38","x":194,"y":0.0517,"lo":0.0486,"hi":0.055},{"pn":"iR","s":"S38","x":294,"y":0.131,"lo":0.123,"hi":0.139},{"pn":"iR","s":"S38","x":394,"y":0.218,"lo":0.205,"hi":0.231},{"pn":"iR","s":"S38","x":494,"y":0.333,"lo":0.313,"hi":0.353},{"pn":"iR","s":"S38","x":594,"y":0.444,"lo":0.417,"hi":0.471},{"pn":"iR","s":"S38","x":694,"y":0.543,"lo":0.51,"hi":0.576},{"pn":"iR","s":"S38","x":794,"y":0.655,"lo":0.616,"hi":0.694},{"pn":"iR","s":"S38","x":894,"y":0.713,"lo":0.67,"hi":0.756},{"pn":"iR","s":"S38","x":994,"y":0.816,"lo":0.767,"hi":0.865},
{"pn":"iR","s":"N30","x":101,"y":0.0113,"lo":0.0106,"hi":0.012},{"pn":"iR","s":"N30","x":201,"y":0.0633,"lo":0.059,"hi":0.068},{"pn":"iR","s":"N30","x":301,"y":0.148,"lo":0.138,"hi":0.158},{"pn":"iR","s":"N30","x":401,"y":0.237,"lo":0.22,"hi":0.254},{"pn":"iR","s":"N30","x":501,"y":0.306,"lo":0.285,"hi":0.327},{"pn":"iR","s":"N30","x":601,"y":0.394,"lo":0.366,"hi":0.422},{"pn":"iR","s":"N30","x":701,"y":0.491,"lo":0.455,"hi":0.527},{"pn":"iR","s":"N30","x":801,"y":0.553,"lo":0.51,"hi":0.6},{"pn":"iR","s":"N30","x":901,"y":0.622,"lo":0.5,"hi":0.75},{"pn":"iR","s":"N30","x":1001,"y":0.582,"lo":0.42,"hi":0.72},
{"pn":"iR","s":"S30","x":96,"y":0.0111,"lo":0.0104,"hi":0.0118},{"pn":"iR","s":"S30","x":196,"y":0.0491,"lo":0.046,"hi":0.052},{"pn":"iR","s":"S30","x":296,"y":0.1017,"lo":0.095,"hi":0.108},{"pn":"iR","s":"S30","x":396,"y":0.175,"lo":0.163,"hi":0.187},{"pn":"iR","s":"S30","x":496,"y":0.267,"lo":0.248,"hi":0.286},{"pn":"iR","s":"S30","x":596,"y":0.362,"lo":0.337,"hi":0.387},{"pn":"iR","s":"S30","x":696,"y":0.444,"lo":0.413,"hi":0.475},{"pn":"iR","s":"S30","x":796,"y":0.535,"lo":0.497,"hi":0.573},{"pn":"iR","s":"S30","x":896,"y":0.622,"lo":0.578,"hi":0.666},{"pn":"iR","s":"S30","x":996,"y":0.713,"lo":0.663,"hi":0.763},
{"pn":"iR","s":"N23","x":103,"y":0.0103,"lo":0.0095,"hi":0.011},{"pn":"iR","s":"N23","x":203,"y":0.0459,"lo":0.042,"hi":0.05},{"pn":"iR","s":"N23","x":303,"y":0.115,"lo":0.105,"hi":0.126},{"pn":"iR","s":"N23","x":403,"y":0.178,"lo":0.16,"hi":0.2},{"pn":"iR","s":"N23","x":503,"y":0.237,"lo":0.21,"hi":0.27},{"pn":"iR","s":"N23","x":603,"y":0.281,"lo":0.23,"hi":0.33},{"pn":"iR","s":"N23","x":703,"y":0.306,"lo":0.23,"hi":0.4},{"pn":"iR","s":"N23","x":803,"y":0.272,"lo":0.12,"hi":0.43},
{"pn":"iR","s":"N17","x":105,"y":0.006,"lo":0.0055,"hi":0.0066},{"pn":"iR","s":"N17","x":205,"y":0.0197,"lo":0.017,"hi":0.023},{"pn":"iR","s":"N17","x":305,"y":0.0381,"lo":0.024,"hi":0.052},{"pn":"iR","s":"N17","x":405,"y":0.0543,"lo":0.0197,"hi":0.09},{"pn":"iR","s":"N17","x":505,"y":0.0543,"lo":0.0044,"hi":0.107},{"pn":"iR","s":"N17","x":605,"y":0.0436,"lo":0.0095,"hi":0.082}
]},
"concat":[
{"width":544,"height":173,"title":{"text":"Evaporative Multiplicity","offset":12,"dx":-8},
"layer":[
{"data":{"name":"pts"},"transform":[{"filter":"datum.pn==='pL'"}],"mark":{"type":"rule","clip":true,"strokeWidth":1.3},
"encoding":{"x":{"field":"x","type":"quantitative","scale":{"domain":[0,1100]},"axis":null},
"y":{"field":"lo","type":"quantitative","scale":{"type":"log","domain":[0.04,4]},"axis":{"orient":"left","values":[0.1,1],"ticks":false,"labelExpr":"datum.value == 1 ? '1' : '10'","labelPadding":{"condition":{"test":"datum.value == 1","value":12},"value":28},"labelFontSize":17,"title":null}},
"y2":{"field":"hi"},
"stroke":{"field":"s","type":"nominal","scale":{"domain":["N38","N30","N23","N17","S38","S30"],"range":["#ff0000","#ff0000","#ff0000","#ff0000","#0000ff","#0000ff"]},"legend":null},
"strokeDash":{"field":"s","type":"nominal","scale":{"domain":["N38","N30","N23","N17","S38","S30"],"range":[[1,0],[5,3],[7,3,1.5,3],[1.5,2],[1,0],[4,3]]},"legend":null}}},
{"data":{"name":"pts"},"transform":[{"filter":"datum.pn==='pL'"}],"mark":{"type":"line","clip":true,"strokeWidth":1.3},
"encoding":{"x":{"field":"x","type":"quantitative","scale":{"domain":[0,1100]},"axis":{"orient":"bottom","values":[0,50,100,150,200,250,300,350,400,450,500,550,600,650,700,750,800,850,900,950,1000,1050,1100],"labels":false,"tickSize":{"condition":{"test":"datum.value % 200 === 0","value":-11},"value":-6},"title":null}},
"y":{"field":"y","type":"quantitative","scale":{"type":"log","domain":[0.04,4]},"axis":{"orient":"left","values":[0.1],"ticks":false,"labelExpr":"'-' + round(-log(datum.value)/LN10)","labelAlign":"left","labelPadding":20,"labelOffset":-14,"labelFontSize":12,"title":null}},
"stroke":{"field":"s","type":"nominal","legend":null},"strokeDash":{"field":"s","type":"nominal","legend":null}}},
{"data":{"name":"pts"},"transform":[{"filter":"datum.pn==='pL'"}],"mark":{"type":"point","clip":true,"opacity":1,"strokeWidth":1.3},
"encoding":{"x":{"field":"x","type":"quantitative","scale":{"domain":[0,1100]},"axis":{"orient":"top","values":[0,50,100,150,200,250,300,350,400,450,500,550,600,650,700,750,800,850,900,950,1000,1050,1100],"labels":false,"tickSize":{"condition":{"test":"datum.value % 200 === 0","value":-11},"value":-6},"title":null}},
"y":{"field":"y","type":"quantitative","scale":{"type":"log","domain":[0.04,4]},"axis":{"orient":"left","values":[0.04,0.05,0.06,0.07,0.08,0.09,0.1,0.2,0.3,0.4,0.5,0.6,0.7,0.8,0.9,1,2,3,4],"labels":false,"tickSize":{"condition":{"test":"abs(log(datum.value)/LN10 - round(log(datum.value)/LN10)) < 0.000001","value":-12},"value":-6},"title":null}},
"shape":{"field":"s","type":"nominal","scale":{"domain":["N38","N30","N23","N17","S38","S30"],"range":["circle","M0,-1L0.2245,-0.309L0.9511,-0.309L0.3633,0.118L0.5878,0.809L0,0.382L-0.5878,0.809L-0.3633,0.118L-0.9511,-0.309L-0.2245,-0.309Z","square","triangle-up","circle","M0,-1L0.2245,-0.309L0.9511,-0.309L0.3633,0.118L0.5878,0.809L0,0.382L-0.5878,0.809L-0.3633,0.118L-0.9511,-0.309L-0.2245,-0.309Z"]},"legend":null},
"fill":{"field":"s","type":"nominal","scale":{"domain":["N38","N30","N23","N17","S38","S30"],"range":["#ff0000","#ff0000","#ff0000","#ff0000","transparent","transparent"]},"legend":null},
"stroke":{"field":"s","type":"nominal","legend":null},
"size":{"field":"s","type":"nominal","scale":{"domain":["N38","N30","N23","N17","S38","S30"],"range":[40,55,45,40,75,150]},"legend":null}}},
{"data":{"name":"lab"},"transform":[{"filter":"datum.pn==='pL'"}],"mark":{"type":"text","align":"left","baseline":"alphabetic","fontSize":37,"fontWeight":"bold"},
"encoding":{"x":{"datum":52,"type":"quantitative","axis":null},"y":{"datum":0.41,"type":"quantitative","scale":{"type":"log","domain":[0.04,4]},"axis":{"orient":"right","values":[0.04,0.05,0.06,0.07,0.08,0.09,0.1,0.2,0.3,0.4,0.5,0.6,0.7,0.8,0.9,1,2,3,4],"labels":false,"tickSize":{"condition":{"test":"abs(log(datum.value)/LN10 - round(log(datum.value)/LN10)) < 0.000001","value":-12},"value":-6},"title":null}},"text":{"field":"t"}}},
{"data":{"name":"leg"},"transform":[{"filter":"datum.g==='Nb'"}],
"encoding":{"y":{"field":"s","type":"nominal","scale":{"type":"point","domain":["N38","N30","N23","N17"],"range":[71.7,138.3]},"axis":null}},
"layer":[
{"mark":{"type":"rule","strokeWidth":1.3},"encoding":{"x":{"datum":576,"type":"quantitative","axis":null},"x2":{"datum":645},"stroke":{"field":"s","type":"nominal","legend":null},"strokeDash":{"field":"s","type":"nominal","legend":null}}},
{"mark":{"type":"point","opacity":1,"strokeWidth":1.3},"encoding":{"x":{"datum":677,"type":"quantitative","axis":null},"shape":{"field":"s","type":"nominal","legend":null},"fill":{"field":"s","type":"nominal","legend":null},"stroke":{"field":"s","type":"nominal","legend":null},"size":{"field":"s","type":"nominal","legend":null}}},
{"mark":{"type":"text","align":"left","baseline":"middle","fontSize":19,"fontWeight":"bold"},"encoding":{"x":{"datum":713,"type":"quantitative","axis":null},"text":{"field":"lab"},"color":{"field":"s","type":"nominal","scale":{"domain":["N38","N30","N23","N17","S38","S30"],"range":["#ff0000","#ff0000","#ff0000","#ff0000","#0000ff","#0000ff"]},"legend":null}}}
]}
],
"resolve":{"scale":{"y":"independent"},"axis":{"x":"independent","y":"independent"}}},

{"width":544,"height":173,"title":{"text":"Mid-velocity Multiplicity","offset":12},
"layer":[
{"data":{"name":"pts"},"transform":[{"filter":"datum.pn==='pR'"}],"mark":{"type":"rule","clip":true,"strokeWidth":1.3},
"encoding":{"x":{"field":"x","type":"quantitative","scale":{"domain":[0,1100]},"axis":null},
"y":{"field":"lo","type":"quantitative","scale":{"type":"log","domain":[0.04,4]},"axis":{"orient":"left","values":[0.1,1],"ticks":false,"labelExpr":"datum.value == 1 ? '1' : '10'","labelPadding":{"condition":{"test":"datum.value == 1","value":12},"value":28},"labelFontSize":17,"title":null}},
"y2":{"field":"hi"},"stroke":{"field":"s","type":"nominal","legend":null},"strokeDash":{"field":"s","type":"nominal","legend":null}}},
{"data":{"name":"pts"},"transform":[{"filter":"datum.pn==='pR'"}],"mark":{"type":"line","clip":true,"strokeWidth":1.3},
"encoding":{"x":{"field":"x","type":"quantitative","scale":{"domain":[0,1100]},"axis":{"orient":"bottom","values":[0,50,100,150,200,250,300,350,400,450,500,550,600,650,700,750,800,850,900,950,1000,1050,1100],"labels":false,"tickSize":{"condition":{"test":"datum.value % 200 === 0","value":-11},"value":-6},"title":null}},
"y":{"field":"y","type":"quantitative","scale":{"type":"log","domain":[0.04,4]},"axis":{"orient":"left","values":[0.1],"ticks":false,"labelExpr":"'-' + round(-log(datum.value)/LN10)","labelAlign":"left","labelPadding":20,"labelOffset":-14,"labelFontSize":12,"title":null}},
"stroke":{"field":"s","type":"nominal","legend":null},"strokeDash":{"field":"s","type":"nominal","legend":null}}},
{"data":{"name":"pts"},"transform":[{"filter":"datum.pn==='pR'"}],"mark":{"type":"point","clip":true,"opacity":1,"strokeWidth":1.3},
"encoding":{"x":{"field":"x","type":"quantitative","scale":{"domain":[0,1100]},"axis":{"orient":"top","values":[0,50,100,150,200,250,300,350,400,450,500,550,600,650,700,750,800,850,900,950,1000,1050,1100],"labels":false,"tickSize":{"condition":{"test":"datum.value % 200 === 0","value":-11},"value":-6},"title":null}},
"y":{"field":"y","type":"quantitative","scale":{"type":"log","domain":[0.04,4]},"axis":{"orient":"left","values":[0.04,0.05,0.06,0.07,0.08,0.09,0.1,0.2,0.3,0.4,0.5,0.6,0.7,0.8,0.9,1,2,3,4],"labels":false,"tickSize":{"condition":{"test":"abs(log(datum.value)/LN10 - round(log(datum.value)/LN10)) < 0.000001","value":-12},"value":-6},"title":null}},
"shape":{"field":"s","type":"nominal","legend":null},"fill":{"field":"s","type":"nominal","legend":null},"stroke":{"field":"s","type":"nominal","legend":null},"size":{"field":"s","type":"nominal","legend":null}}},
{"data":{"name":"lab"},"transform":[{"filter":"datum.pn==='pR'"}],"mark":{"type":"text","align":"left","baseline":"alphabetic","fontSize":37,"fontWeight":"bold"},
"encoding":{"x":{"datum":58,"type":"quantitative","axis":null},"y":{"datum":0.41,"type":"quantitative","scale":{"type":"log","domain":[0.04,4]},"axis":{"orient":"right","values":[0.04,0.05,0.06,0.07,0.08,0.09,0.1,0.2,0.3,0.4,0.5,0.6,0.7,0.8,0.9,1,2,3,4],"labels":false,"tickSize":{"condition":{"test":"abs(log(datum.value)/LN10 - round(log(datum.value)/LN10)) < 0.000001","value":-12},"value":-6},"title":null}},"text":{"field":"t"}}}
],
"resolve":{"scale":{"y":"independent"},"axis":{"x":"independent","y":"independent"}}},

{"width":544,"height":173,
"layer":[
{"data":{"name":"pts"},"transform":[{"filter":"datum.pn==='dL'"}],"mark":{"type":"rule","clip":true,"strokeWidth":1.3},
"encoding":{"x":{"field":"x","type":"quantitative","scale":{"domain":[0,1100]},"axis":null},
"y":{"field":"lo","type":"quantitative","scale":{"type":"log","domain":[0.005,2]},"axis":{"orient":"left","values":[0.01,0.1,1],"ticks":false,"labelExpr":"datum.value == 1 ? '1' : '10'","labelPadding":{"condition":{"test":"datum.value == 1","value":12},"value":28},"labelFontSize":17,"title":null}},
"y2":{"field":"hi"},"stroke":{"field":"s","type":"nominal","legend":null},"strokeDash":{"field":"s","type":"nominal","legend":null}}},
{"data":{"name":"pts"},"transform":[{"filter":"datum.pn==='dL'"}],"mark":{"type":"line","clip":true,"strokeWidth":1.3},
"encoding":{"x":{"field":"x","type":"quantitative","scale":{"domain":[0,1100]},"axis":{"orient":"bottom","values":[0,50,100,150,200,250,300,350,400,450,500,550,600,650,700,750,800,850,900,950,1000,1050,1100],"labels":false,"tickSize":{"condition":{"test":"datum.value % 200 === 0","value":-11},"value":-6},"title":null}},
"y":{"field":"y","type":"quantitative","scale":{"type":"log","domain":[0.005,2]},"axis":{"orient":"left","values":[0.01,0.1],"ticks":false,"labelExpr":"'-' + round(-log(datum.value)/LN10)","labelAlign":"left","labelPadding":20,"labelOffset":-14,"labelFontSize":12,"title":null}},
"stroke":{"field":"s","type":"nominal","legend":null},"strokeDash":{"field":"s","type":"nominal","legend":null}}},
{"data":{"name":"pts"},"transform":[{"filter":"datum.pn==='dL'"}],"mark":{"type":"point","clip":true,"opacity":1,"strokeWidth":1.3},
"encoding":{"x":{"field":"x","type":"quantitative","scale":{"domain":[0,1100]},"axis":{"orient":"top","values":[0,50,100,150,200,250,300,350,400,450,500,550,600,650,700,750,800,850,900,950,1000,1050,1100],"labels":false,"tickSize":{"condition":{"test":"datum.value % 200 === 0","value":-11},"value":-6},"title":null}},
"y":{"field":"y","type":"quantitative","scale":{"type":"log","domain":[0.005,2]},"axis":{"orient":"left","values":[0.005,0.006,0.007,0.008,0.009,0.01,0.02,0.03,0.04,0.05,0.06,0.07,0.08,0.09,0.1,0.2,0.3,0.4,0.5,0.6,0.7,0.8,0.9,1,2],"labels":false,"tickSize":{"condition":{"test":"abs(log(datum.value)/LN10 - round(log(datum.value)/LN10)) < 0.000001","value":-12},"value":-6},"title":null}},
"shape":{"field":"s","type":"nominal","legend":null},"fill":{"field":"s","type":"nominal","legend":null},"stroke":{"field":"s","type":"nominal","legend":null},"size":{"field":"s","type":"nominal","legend":null}}},
{"data":{"name":"lab"},"transform":[{"filter":"datum.pn==='dL'"}],"mark":{"type":"text","align":"left","baseline":"alphabetic","fontSize":37,"fontWeight":"bold"},
"encoding":{"x":{"datum":52,"type":"quantitative","axis":null},"y":{"datum":0.596,"type":"quantitative","scale":{"type":"log","domain":[0.005,2]},"axis":{"orient":"right","values":[0.005,0.006,0.007,0.008,0.009,0.01,0.02,0.03,0.04,0.05,0.06,0.07,0.08,0.09,0.1,0.2,0.3,0.4,0.5,0.6,0.7,0.8,0.9,1,2],"labels":false,"tickSize":{"condition":{"test":"abs(log(datum.value)/LN10 - round(log(datum.value)/LN10)) < 0.000001","value":-12},"value":-6},"title":null}},"text":{"field":"t"}}},
{"data":{"name":"leg"},"transform":[{"filter":"datum.g==='Sn'"}],
"encoding":{"y":{"field":"s","type":"nominal","scale":{"type":"point","domain":["S38","S30"],"range":[84.7,114.7]},"axis":null}},
"layer":[
{"mark":{"type":"rule","strokeWidth":1.3},"encoding":{"x":{"datum":576,"type":"quantitative","axis":null},"x2":{"datum":645},"stroke":{"field":"s","type":"nominal","legend":null},"strokeDash":{"field":"s","type":"nominal","legend":null}}},
{"mark":{"type":"point","opacity":1,"strokeWidth":1.3},"encoding":{"x":{"datum":677,"type":"quantitative","axis":null},"shape":{"field":"s","type":"nominal","legend":null},"fill":{"field":"s","type":"nominal","legend":null},"stroke":{"field":"s","type":"nominal","legend":null},"size":{"field":"s","type":"nominal","legend":null}}},
{"mark":{"type":"text","align":"left","baseline":"middle","fontSize":19,"fontWeight":"bold"},"encoding":{"x":{"datum":713,"type":"quantitative","axis":null},"text":{"field":"lab"},"color":{"field":"s","type":"nominal","legend":null}}}
]}
],
"resolve":{"scale":{"y":"independent"},"axis":{"x":"independent","y":"independent"}}},

{"width":544,"height":173,
"layer":[
{"data":{"name":"pts"},"transform":[{"filter":"datum.pn==='dR'"}],"mark":{"type":"rule","clip":true,"strokeWidth":1.3},
"encoding":{"x":{"field":"x","type":"quantitative","scale":{"domain":[0,1100]},"axis":null},
"y":{"field":"lo","type":"quantitative","scale":{"type":"log","domain":[0.005,2]},"axis":{"orient":"left","values":[0.01,0.1,1],"ticks":false,"labelExpr":"datum.value == 1 ? '1' : '10'","labelPadding":{"condition":{"test":"datum.value == 1","value":12},"value":28},"labelFontSize":17,"title":null}},
"y2":{"field":"hi"},"stroke":{"field":"s","type":"nominal","legend":null},"strokeDash":{"field":"s","type":"nominal","legend":null}}},
{"data":{"name":"pts"},"transform":[{"filter":"datum.pn==='dR'"}],"mark":{"type":"line","clip":true,"strokeWidth":1.3},
"encoding":{"x":{"field":"x","type":"quantitative","scale":{"domain":[0,1100]},"axis":{"orient":"bottom","values":[0,50,100,150,200,250,300,350,400,450,500,550,600,650,700,750,800,850,900,950,1000,1050,1100],"labels":false,"tickSize":{"condition":{"test":"datum.value % 200 === 0","value":-11},"value":-6},"title":null}},
"y":{"field":"y","type":"quantitative","scale":{"type":"log","domain":[0.005,2]},"axis":{"orient":"left","values":[0.01,0.1],"ticks":false,"labelExpr":"'-' + round(-log(datum.value)/LN10)","labelAlign":"left","labelPadding":20,"labelOffset":-14,"labelFontSize":12,"title":null}},
"stroke":{"field":"s","type":"nominal","legend":null},"strokeDash":{"field":"s","type":"nominal","legend":null}}},
{"data":{"name":"pts"},"transform":[{"filter":"datum.pn==='dR'"}],"mark":{"type":"point","clip":true,"opacity":1,"strokeWidth":1.3},
"encoding":{"x":{"field":"x","type":"quantitative","scale":{"domain":[0,1100]},"axis":{"orient":"top","values":[0,50,100,150,200,250,300,350,400,450,500,550,600,650,700,750,800,850,900,950,1000,1050,1100],"labels":false,"tickSize":{"condition":{"test":"datum.value % 200 === 0","value":-11},"value":-6},"title":null}},
"y":{"field":"y","type":"quantitative","scale":{"type":"log","domain":[0.005,2]},"axis":{"orient":"left","values":[0.005,0.006,0.007,0.008,0.009,0.01,0.02,0.03,0.04,0.05,0.06,0.07,0.08,0.09,0.1,0.2,0.3,0.4,0.5,0.6,0.7,0.8,0.9,1,2],"labels":false,"tickSize":{"condition":{"test":"abs(log(datum.value)/LN10 - round(log(datum.value)/LN10)) < 0.000001","value":-12},"value":-6},"title":null}},
"shape":{"field":"s","type":"nominal","legend":null},"fill":{"field":"s","type":"nominal","legend":null},"stroke":{"field":"s","type":"nominal","legend":null},"size":{"field":"s","type":"nominal","legend":null}}},
{"data":{"name":"lab"},"transform":[{"filter":"datum.pn==='dR'"}],"mark":{"type":"text","align":"left","baseline":"alphabetic","fontSize":37,"fontWeight":"bold"},
"encoding":{"x":{"datum":58,"type":"quantitative","axis":null},"y":{"datum":0.596,"type":"quantitative","scale":{"type":"log","domain":[0.005,2]},"axis":{"orient":"right","values":[0.005,0.006,0.007,0.008,0.009,0.01,0.02,0.03,0.04,0.05,0.06,0.07,0.08,0.09,0.1,0.2,0.3,0.4,0.5,0.6,0.7,0.8,0.9,1,2],"labels":false,"tickSize":{"condition":{"test":"abs(log(datum.value)/LN10 - round(log(datum.value)/LN10)) < 0.000001","value":-12},"value":-6},"title":null}},"text":{"field":"t"}}}
],
"resolve":{"scale":{"y":"independent"},"axis":{"x":"independent","y":"independent"}}},

{"width":544,"height":173,
"layer":[
{"data":{"name":"pts"},"transform":[{"filter":"datum.pn==='tL'"}],"mark":{"type":"rule","clip":true,"strokeWidth":1.3},
"encoding":{"x":{"field":"x","type":"quantitative","scale":{"domain":[0,1100]},"axis":null},
"y":{"field":"lo","type":"quantitative","scale":{"type":"log","domain":[0.00115,0.9]},"axis":{"orient":"left","values":[0.01,0.1],"ticks":false,"labelExpr":"datum.value == 1 ? '1' : '10'","labelPadding":28,"labelFontSize":17,"title":null}},
"y2":{"field":"hi"},"stroke":{"field":"s","type":"nominal","legend":null},"strokeDash":{"field":"s","type":"nominal","legend":null}}},
{"data":{"name":"pts"},"transform":[{"filter":"datum.pn==='tL'"}],"mark":{"type":"line","clip":true,"strokeWidth":1.3},
"encoding":{"x":{"field":"x","type":"quantitative","scale":{"domain":[0,1100]},"axis":{"orient":"bottom","values":[0,50,100,150,200,250,300,350,400,450,500,550,600,650,700,750,800,850,900,950,1000,1050,1100],"labels":false,"tickSize":{"condition":{"test":"datum.value % 200 === 0","value":-11},"value":-6},"title":null}},
"y":{"field":"y","type":"quantitative","scale":{"type":"log","domain":[0.00115,0.9]},"axis":{"orient":"left","values":[0.01,0.1],"ticks":false,"labelExpr":"'-' + round(-log(datum.value)/LN10)","labelAlign":"left","labelPadding":20,"labelOffset":-14,"labelFontSize":12,"title":null}},
"stroke":{"field":"s","type":"nominal","legend":null},"strokeDash":{"field":"s","type":"nominal","legend":null}}},
{"data":{"name":"pts"},"transform":[{"filter":"datum.pn==='tL'"}],"mark":{"type":"point","clip":true,"opacity":1,"strokeWidth":1.3},
"encoding":{"x":{"field":"x","type":"quantitative","scale":{"domain":[0,1100]},"axis":{"orient":"top","values":[0,50,100,150,200,250,300,350,400,450,500,550,600,650,700,750,800,850,900,950,1000,1050,1100],"labels":false,"tickSize":{"condition":{"test":"datum.value % 200 === 0","value":-11},"value":-6},"title":null}},
"y":{"field":"y","type":"quantitative","scale":{"type":"log","domain":[0.00115,0.9]},"axis":{"orient":"left","values":[0.002,0.003,0.004,0.005,0.006,0.007,0.008,0.009,0.01,0.02,0.03,0.04,0.05,0.06,0.07,0.08,0.09,0.1,0.2,0.3,0.4,0.5,0.6,0.7,0.8,0.9],"labels":false,"tickSize":{"condition":{"test":"abs(log(datum.value)/LN10 - round(log(datum.value)/LN10)) < 0.000001","value":-12},"value":-6},"title":null}},
"shape":{"field":"s","type":"nominal","legend":null},"fill":{"field":"s","type":"nominal","legend":null},"stroke":{"field":"s","type":"nominal","legend":null},"size":{"field":"s","type":"nominal","legend":null}}},
{"data":{"name":"lab"},"transform":[{"filter":"datum.pn==='tL'"}],"mark":{"type":"text","align":"left","baseline":"alphabetic","fontSize":37,"fontWeight":"bold"},
"encoding":{"x":{"datum":52,"type":"quantitative","axis":null},"y":{"datum":0.281,"type":"quantitative","scale":{"type":"log","domain":[0.00115,0.9]},"axis":{"orient":"right","values":[0.002,0.003,0.004,0.005,0.006,0.007,0.008,0.009,0.01,0.02,0.03,0.04,0.05,0.06,0.07,0.08,0.09,0.1,0.2,0.3,0.4,0.5,0.6,0.7,0.8,0.9],"labels":false,"tickSize":{"condition":{"test":"abs(log(datum.value)/LN10 - round(log(datum.value)/LN10)) < 0.000001","value":-12},"value":-6},"title":null}},"text":{"field":"t"}}}
],
"resolve":{"scale":{"y":"independent"},"axis":{"x":"independent","y":"independent"}}},

{"width":544,"height":173,
"layer":[
{"data":{"name":"pts"},"transform":[{"filter":"datum.pn==='tR'"}],"mark":{"type":"rule","clip":true,"strokeWidth":1.3},
"encoding":{"x":{"field":"x","type":"quantitative","scale":{"domain":[0,1100]},"axis":null},
"y":{"field":"lo","type":"quantitative","scale":{"type":"log","domain":[0.00115,0.9]},"axis":{"orient":"left","values":[0.01,0.1],"ticks":false,"labelExpr":"datum.value == 1 ? '1' : '10'","labelPadding":28,"labelFontSize":17,"title":null}},
"y2":{"field":"hi"},"stroke":{"field":"s","type":"nominal","legend":null},"strokeDash":{"field":"s","type":"nominal","legend":null}}},
{"data":{"name":"pts"},"transform":[{"filter":"datum.pn==='tR'"}],"mark":{"type":"line","clip":true,"strokeWidth":1.3},
"encoding":{"x":{"field":"x","type":"quantitative","scale":{"domain":[0,1100]},"axis":{"orient":"bottom","values":[0,50,100,150,200,250,300,350,400,450,500,550,600,650,700,750,800,850,900,950,1000,1050,1100],"labels":false,"tickSize":{"condition":{"test":"datum.value % 200 === 0","value":-11},"value":-6},"title":null}},
"y":{"field":"y","type":"quantitative","scale":{"type":"log","domain":[0.00115,0.9]},"axis":{"orient":"left","values":[0.01,0.1],"ticks":false,"labelExpr":"'-' + round(-log(datum.value)/LN10)","labelAlign":"left","labelPadding":20,"labelOffset":-14,"labelFontSize":12,"title":null}},
"stroke":{"field":"s","type":"nominal","legend":null},"strokeDash":{"field":"s","type":"nominal","legend":null}}},
{"data":{"name":"pts"},"transform":[{"filter":"datum.pn==='tR'"}],"mark":{"type":"point","clip":true,"opacity":1,"strokeWidth":1.3},
"encoding":{"x":{"field":"x","type":"quantitative","scale":{"domain":[0,1100]},"axis":{"orient":"top","values":[0,50,100,150,200,250,300,350,400,450,500,550,600,650,700,750,800,850,900,950,1000,1050,1100],"labels":false,"tickSize":{"condition":{"test":"datum.value % 200 === 0","value":-11},"value":-6},"title":null}},
"y":{"field":"y","type":"quantitative","scale":{"type":"log","domain":[0.00115,0.9]},"axis":{"orient":"left","values":[0.002,0.003,0.004,0.005,0.006,0.007,0.008,0.009,0.01,0.02,0.03,0.04,0.05,0.06,0.07,0.08,0.09,0.1,0.2,0.3,0.4,0.5,0.6,0.7,0.8,0.9],"labels":false,"tickSize":{"condition":{"test":"abs(log(datum.value)/LN10 - round(log(datum.value)/LN10)) < 0.000001","value":-12},"value":-6},"title":null}},
"shape":{"field":"s","type":"nominal","legend":null},"fill":{"field":"s","type":"nominal","legend":null},"stroke":{"field":"s","type":"nominal","legend":null},"size":{"field":"s","type":"nominal","legend":null}}},
{"data":{"name":"lab"},"transform":[{"filter":"datum.pn==='tR'"}],"mark":{"type":"text","align":"left","baseline":"alphabetic","fontSize":37,"fontWeight":"bold"},
"encoding":{"x":{"datum":58,"type":"quantitative","axis":null},"y":{"datum":0.281,"type":"quantitative","scale":{"type":"log","domain":[0.00115,0.9]},"axis":{"orient":"right","values":[0.002,0.003,0.004,0.005,0.006,0.007,0.008,0.009,0.01,0.02,0.03,0.04,0.05,0.06,0.07,0.08,0.09,0.1,0.2,0.3,0.4,0.5,0.6,0.7,0.8,0.9],"labels":false,"tickSize":{"condition":{"test":"abs(log(datum.value)/LN10 - round(log(datum.value)/LN10)) < 0.000001","value":-12},"value":-6},"title":null}},"text":{"field":"t"}}}
],
"resolve":{"scale":{"y":"independent"},"axis":{"x":"independent","y":"independent"}}},

{"width":544,"height":173,
"layer":[
{"data":{"name":"pts"},"transform":[{"filter":"datum.pn==='aL'"}],"mark":{"type":"rule","clip":true,"strokeWidth":1.3},
"encoding":{"x":{"field":"x","type":"quantitative","scale":{"domain":[0,1100]},"axis":null},
"y":{"field":"lo","type":"quantitative","scale":{"type":"log","domain":[0.0114,5.2]},"axis":{"orient":"left","values":[0.1,1],"ticks":false,"labelExpr":"datum.value == 1 ? '1' : '10'","labelPadding":{"condition":{"test":"datum.value == 1","value":12},"value":28},"labelFontSize":17,"title":null}},
"y2":{"field":"hi"},"stroke":{"field":"s","type":"nominal","legend":null},"strokeDash":{"field":"s","type":"nominal","legend":null}}},
{"data":{"name":"pts"},"transform":[{"filter":"datum.pn==='aL'"}],"mark":{"type":"line","clip":true,"strokeWidth":1.3},
"encoding":{"x":{"field":"x","type":"quantitative","scale":{"domain":[0,1100]},"axis":{"orient":"bottom","values":[0,50,100,150,200,250,300,350,400,450,500,550,600,650,700,750,800,850,900,950,1000,1050,1100],"labels":false,"tickSize":{"condition":{"test":"datum.value % 200 === 0","value":-11},"value":-6},"title":null}},
"y":{"field":"y","type":"quantitative","scale":{"type":"log","domain":[0.0114,5.2]},"axis":{"orient":"left","values":[0.1],"ticks":false,"labelExpr":"'-' + round(-log(datum.value)/LN10)","labelAlign":"left","labelPadding":20,"labelOffset":-14,"labelFontSize":12,"title":null}},
"stroke":{"field":"s","type":"nominal","legend":null},"strokeDash":{"field":"s","type":"nominal","legend":null}}},
{"data":{"name":"pts"},"transform":[{"filter":"datum.pn==='aL'"}],"mark":{"type":"point","clip":true,"opacity":1,"strokeWidth":1.3},
"encoding":{"x":{"field":"x","type":"quantitative","scale":{"domain":[0,1100]},"axis":{"orient":"top","values":[0,50,100,150,200,250,300,350,400,450,500,550,600,650,700,750,800,850,900,950,1000,1050,1100],"labels":false,"tickSize":{"condition":{"test":"datum.value % 200 === 0","value":-11},"value":-6},"title":null}},
"y":{"field":"y","type":"quantitative","scale":{"type":"log","domain":[0.0114,5.2]},"axis":{"orient":"left","values":[0.02,0.03,0.04,0.05,0.06,0.07,0.08,0.09,0.1,0.2,0.3,0.4,0.5,0.6,0.7,0.8,0.9,1,2,3,4,5],"labels":false,"tickSize":{"condition":{"test":"abs(log(datum.value)/LN10 - round(log(datum.value)/LN10)) < 0.000001","value":-12},"value":-6},"title":null}},
"shape":{"field":"s","type":"nominal","legend":null},"fill":{"field":"s","type":"nominal","legend":null},"stroke":{"field":"s","type":"nominal","legend":null},"size":{"field":"s","type":"nominal","legend":null}}},
{"data":{"name":"lab"},"transform":[{"filter":"datum.pn==='aL'"}],"mark":{"type":"text","align":"left","baseline":"alphabetic","fontSize":38,"font":"Liberation Serif"},
"encoding":{"x":{"datum":52,"type":"quantitative","axis":null},"y":{"datum":1.55,"type":"quantitative","scale":{"type":"log","domain":[0.0114,5.2]},"axis":{"orient":"right","values":[0.02,0.03,0.04,0.05,0.06,0.07,0.08,0.09,0.1,0.2,0.3,0.4,0.5,0.6,0.7,0.8,0.9,1,2,3,4,5],"labels":false,"tickSize":{"condition":{"test":"abs(log(datum.value)/LN10 - round(log(datum.value)/LN10)) < 0.000001","value":-12},"value":-6},"title":null}},"text":{"field":"t"}}}
],
"resolve":{"scale":{"y":"independent"},"axis":{"x":"independent","y":"independent"}}},

{"width":544,"height":173,
"layer":[
{"data":{"name":"pts"},"transform":[{"filter":"datum.pn==='aR'"}],"mark":{"type":"rule","clip":true,"strokeWidth":1.3},
"encoding":{"x":{"field":"x","type":"quantitative","scale":{"domain":[0,1100]},"axis":null},
"y":{"field":"lo","type":"quantitative","scale":{"type":"log","domain":[0.0114,5.2]},"axis":{"orient":"left","values":[0.1,1],"ticks":false,"labelExpr":"datum.value == 1 ? '1' : '10'","labelPadding":{"condition":{"test":"datum.value == 1","value":12},"value":28},"labelFontSize":17,"title":null}},
"y2":{"field":"hi"},"stroke":{"field":"s","type":"nominal","legend":null},"strokeDash":{"field":"s","type":"nominal","legend":null}}},
{"data":{"name":"pts"},"transform":[{"filter":"datum.pn==='aR'"}],"mark":{"type":"line","clip":true,"strokeWidth":1.3},
"encoding":{"x":{"field":"x","type":"quantitative","scale":{"domain":[0,1100]},"axis":{"orient":"bottom","values":[0,50,100,150,200,250,300,350,400,450,500,550,600,650,700,750,800,850,900,950,1000,1050,1100],"labels":false,"tickSize":{"condition":{"test":"datum.value % 200 === 0","value":-11},"value":-6},"title":null}},
"y":{"field":"y","type":"quantitative","scale":{"type":"log","domain":[0.0114,5.2]},"axis":{"orient":"left","values":[0.1],"ticks":false,"labelExpr":"'-' + round(-log(datum.value)/LN10)","labelAlign":"left","labelPadding":20,"labelOffset":-14,"labelFontSize":12,"title":null}},
"stroke":{"field":"s","type":"nominal","legend":null},"strokeDash":{"field":"s","type":"nominal","legend":null}}},
{"data":{"name":"pts"},"transform":[{"filter":"datum.pn==='aR'"}],"mark":{"type":"point","clip":true,"opacity":1,"strokeWidth":1.3},
"encoding":{"x":{"field":"x","type":"quantitative","scale":{"domain":[0,1100]},"axis":{"orient":"top","values":[0,50,100,150,200,250,300,350,400,450,500,550,600,650,700,750,800,850,900,950,1000,1050,1100],"labels":false,"tickSize":{"condition":{"test":"datum.value % 200 === 0","value":-11},"value":-6},"title":null}},
"y":{"field":"y","type":"quantitative","scale":{"type":"log","domain":[0.0114,5.2]},"axis":{"orient":"left","values":[0.02,0.03,0.04,0.05,0.06,0.07,0.08,0.09,0.1,0.2,0.3,0.4,0.5,0.6,0.7,0.8,0.9,1,2,3,4,5],"labels":false,"tickSize":{"condition":{"test":"abs(log(datum.value)/LN10 - round(log(datum.value)/LN10)) < 0.000001","value":-12},"value":-6},"title":null}},
"shape":{"field":"s","type":"nominal","legend":null},"fill":{"field":"s","type":"nominal","legend":null},"stroke":{"field":"s","type":"nominal","legend":null},"size":{"field":"s","type":"nominal","legend":null}}},
{"data":{"name":"lab"},"transform":[{"filter":"datum.pn==='aR'"}],"mark":{"type":"text","align":"left","baseline":"alphabetic","fontSize":38,"font":"Liberation Serif"},
"encoding":{"x":{"datum":58,"type":"quantitative","axis":null},"y":{"datum":1.55,"type":"quantitative","scale":{"type":"log","domain":[0.0114,5.2]},"axis":{"orient":"right","values":[0.02,0.03,0.04,0.05,0.06,0.07,0.08,0.09,0.1,0.2,0.3,0.4,0.5,0.6,0.7,0.8,0.9,1,2,3,4,5],"labels":false,"tickSize":{"condition":{"test":"abs(log(datum.value)/LN10 - round(log(datum.value)/LN10)) < 0.000001","value":-12},"value":-6},"title":null}},"text":{"field":"t"}}}
],
"resolve":{"scale":{"y":"independent"},"axis":{"x":"independent","y":"independent"}}},

{"width":544,"height":173,
"layer":[
{"data":{"name":"pts"},"transform":[{"filter":"datum.pn==='iL'"}],"mark":{"type":"rule","clip":true,"strokeWidth":1.3},
"encoding":{"x":{"field":"x","type":"quantitative","scale":{"domain":[0,1100]},"axis":{"orient":"bottom","values":[0,200,400,600,800,1000],"format":"d","ticks":false,"labelPadding":14,"labelFontSize":17,"title":"TKEL (MeV)","titleAnchor":"end","titleFontSize":23,"titleFontWeight":"bold","titlePadding":3}},
"y":{"field":"lo","type":"quantitative","scale":{"type":"log","domain":[0.00032,2]},"axis":{"orient":"left","values":[0.001,0.01,0.1,1],"ticks":false,"labelExpr":"datum.value == 1 ? '1' : '10'","labelPadding":{"condition":{"test":"datum.value == 1","value":12},"value":28},"labelFontSize":17,"title":null}},
"y2":{"field":"hi"},"stroke":{"field":"s","type":"nominal","legend":null},"strokeDash":{"field":"s","type":"nominal","legend":null}}},
{"data":{"name":"pts"},"transform":[{"filter":"datum.pn==='iL'"}],"mark":{"type":"line","clip":true,"strokeWidth":1.3},
"encoding":{"x":{"field":"x","type":"quantitative","scale":{"domain":[0,1100]},"axis":{"orient":"bottom","values":[0,50,100,150,200,250,300,350,400,450,500,550,600,650,700,750,800,850,900,950,1000,1050,1100],"labels":false,"tickSize":{"condition":{"test":"datum.value % 200 === 0","value":-11},"value":-6},"title":null}},
"y":{"field":"y","type":"quantitative","scale":{"type":"log","domain":[0.00032,2]},"axis":{"orient":"left","values":[0.001,0.01,0.1],"ticks":false,"labelExpr":"'-' + round(-log(datum.value)/LN10)","labelAlign":"left","labelPadding":20,"labelOffset":-14,"labelFontSize":12,"title":null}},
"stroke":{"field":"s","type":"nominal","legend":null},"strokeDash":{"field":"s","type":"nominal","legend":null}}},
{"data":{"name":"pts"},"transform":[{"filter":"datum.pn==='iL'"}],"mark":{"type":"point","clip":true,"opacity":1,"strokeWidth":1.3},
"encoding":{"x":{"field":"x","type":"quantitative","scale":{"domain":[0,1100]},"axis":{"orient":"top","values":[0,50,100,150,200,250,300,350,400,450,500,550,600,650,700,750,800,850,900,950,1000,1050,1100],"labels":false,"tickSize":{"condition":{"test":"datum.value % 200 === 0","value":-11},"value":-6},"title":null}},
"y":{"field":"y","type":"quantitative","scale":{"type":"log","domain":[0.00032,2]},"axis":{"orient":"left","values":[0.0004,0.0005,0.0006,0.0007,0.0008,0.0009,0.001,0.002,0.003,0.004,0.005,0.006,0.007,0.008,0.009,0.01,0.02,0.03,0.04,0.05,0.06,0.07,0.08,0.09,0.1,0.2,0.3,0.4,0.5,0.6,0.7,0.8,0.9,1,2],"labels":false,"tickSize":{"condition":{"test":"abs(log(datum.value)/LN10 - round(log(datum.value)/LN10)) < 0.000001","value":-12},"value":-6},"title":null}},
"shape":{"field":"s","type":"nominal","legend":null},"fill":{"field":"s","type":"nominal","legend":null},"stroke":{"field":"s","type":"nominal","legend":null},"size":{"field":"s","type":"nominal","legend":null}}},
{"data":{"name":"lab"},"transform":[{"filter":"datum.pn==='iL'"}],"mark":{"type":"text","align":"left","baseline":"alphabetic","fontSize":37,"fontWeight":"bold"},
"encoding":{"x":{"datum":52,"type":"quantitative","axis":null},"y":{"datum":0.193,"type":"quantitative","scale":{"type":"log","domain":[0.00032,2]},"axis":{"orient":"right","values":[0.0004,0.0005,0.0006,0.0007,0.0008,0.0009,0.001,0.002,0.003,0.004,0.005,0.006,0.007,0.008,0.009,0.01,0.02,0.03,0.04,0.05,0.06,0.07,0.08,0.09,0.1,0.2,0.3,0.4,0.5,0.6,0.7,0.8,0.9,1,2],"labels":false,"tickSize":{"condition":{"test":"abs(log(datum.value)/LN10 - round(log(datum.value)/LN10)) < 0.000001","value":-12},"value":-6},"title":null}},"text":{"field":"t"}}}
],
"resolve":{"scale":{"y":"independent"},"axis":{"x":"independent","y":"independent"}}},

{"width":544,"height":173,
"layer":[
{"data":{"name":"pts"},"transform":[{"filter":"datum.pn==='iR'"}],"mark":{"type":"rule","clip":true,"strokeWidth":1.3},
"encoding":{"x":{"field":"x","type":"quantitative","scale":{"domain":[0,1100]},"axis":{"orient":"bottom","values":[0,200,400,600,800,1000],"format":"d","ticks":false,"labelPadding":14,"labelFontSize":17,"title":"TKEL (MeV)","titleAnchor":"end","titleFontSize":23,"titleFontWeight":"bold","titlePadding":3}},
"y":{"field":"lo","type":"quantitative","scale":{"type":"log","domain":[0.00032,2]},"axis":{"orient":"left","values":[0.001,0.01,0.1,1],"ticks":false,"labelExpr":"datum.value == 1 ? '1' : '10'","labelPadding":{"condition":{"test":"datum.value == 1","value":12},"value":28},"labelFontSize":17,"title":null}},
"y2":{"field":"hi"},"stroke":{"field":"s","type":"nominal","legend":null},"strokeDash":{"field":"s","type":"nominal","legend":null}}},
{"data":{"name":"pts"},"transform":[{"filter":"datum.pn==='iR'"}],"mark":{"type":"line","clip":true,"strokeWidth":1.3},
"encoding":{"x":{"field":"x","type":"quantitative","scale":{"domain":[0,1100]},"axis":{"orient":"bottom","values":[0,50,100,150,200,250,300,350,400,450,500,550,600,650,700,750,800,850,900,950,1000,1050,1100],"labels":false,"tickSize":{"condition":{"test":"datum.value % 200 === 0","value":-11},"value":-6},"title":null}},
"y":{"field":"y","type":"quantitative","scale":{"type":"log","domain":[0.00032,2]},"axis":{"orient":"left","values":[0.001,0.01,0.1],"ticks":false,"labelExpr":"'-' + round(-log(datum.value)/LN10)","labelAlign":"left","labelPadding":20,"labelOffset":-14,"labelFontSize":12,"title":null}},
"stroke":{"field":"s","type":"nominal","legend":null},"strokeDash":{"field":"s","type":"nominal","legend":null}}},
{"data":{"name":"pts"},"transform":[{"filter":"datum.pn==='iR'"}],"mark":{"type":"point","clip":true,"opacity":1,"strokeWidth":1.3},
"encoding":{"x":{"field":"x","type":"quantitative","scale":{"domain":[0,1100]},"axis":{"orient":"top","values":[0,50,100,150,200,250,300,350,400,450,500,550,600,650,700,750,800,850,900,950,1000,1050,1100],"labels":false,"tickSize":{"condition":{"test":"datum.value % 200 === 0","value":-11},"value":-6},"title":null}},
"y":{"field":"y","type":"quantitative","scale":{"type":"log","domain":[0.00032,2]},"axis":{"orient":"left","values":[0.0004,0.0005,0.0006,0.0007,0.0008,0.0009,0.001,0.002,0.003,0.004,0.005,0.006,0.007,0.008,0.009,0.01,0.02,0.03,0.04,0.05,0.06,0.07,0.08,0.09,0.1,0.2,0.3,0.4,0.5,0.6,0.7,0.8,0.9,1,2],"labels":false,"tickSize":{"condition":{"test":"abs(log(datum.value)/LN10 - round(log(datum.value)/LN10)) < 0.000001","value":-12},"value":-6},"title":null}},
"shape":{"field":"s","type":"nominal","legend":null},"fill":{"field":"s","type":"nominal","legend":null},"stroke":{"field":"s","type":"nominal","legend":null},"size":{"field":"s","type":"nominal","legend":null}}},
{"data":{"name":"lab"},"transform":[{"filter":"datum.pn==='iR'"}],"mark":{"type":"text","align":"left","baseline":"alphabetic","fontSize":37,"fontWeight":"bold"},
"encoding":{"x":{"datum":58,"type":"quantitative","axis":null},"y":{"datum":0.193,"type":"quantitative","scale":{"type":"log","domain":[0.00032,2]},"axis":{"orient":"right","values":[0.0004,0.0005,0.0006,0.0007,0.0008,0.0009,0.001,0.002,0.003,0.004,0.005,0.006,0.007,0.008,0.009,0.01,0.02,0.03,0.04,0.05,0.06,0.07,0.08,0.09,0.1,0.2,0.3,0.4,0.5,0.6,0.7,0.8,0.9,1,2],"labels":false,"tickSize":{"condition":{"test":"abs(log(datum.value)/LN10 - round(log(datum.value)/LN10)) < 0.000001","value":-12},"value":-6},"title":null}},"text":{"field":"t"}}}
],
"resolve":{"scale":{"y":"independent"},"axis":{"x":"independent","y":"independent"}}}
],
"config":{
"view":{"stroke":"black","strokeWidth":2},
"font":"Liberation Sans",
"axis":{"grid":false,"domain":false,"labelFont":"Liberation Sans","labelFontWeight":"bold","labelColor":"black","tickColor":"black","tickWidth":1.4,"labelFlush":false,"labelOverlap":false,"labelBound":false,"titleFont":"Liberation Sans","titleColor":"black"},
"title":{"font":"Liberation Sans","fontWeight":"bold","fontSize":26.5,"color":"black"},
"text":{"font":"Liberation Sans","color":"black"}
}
}
